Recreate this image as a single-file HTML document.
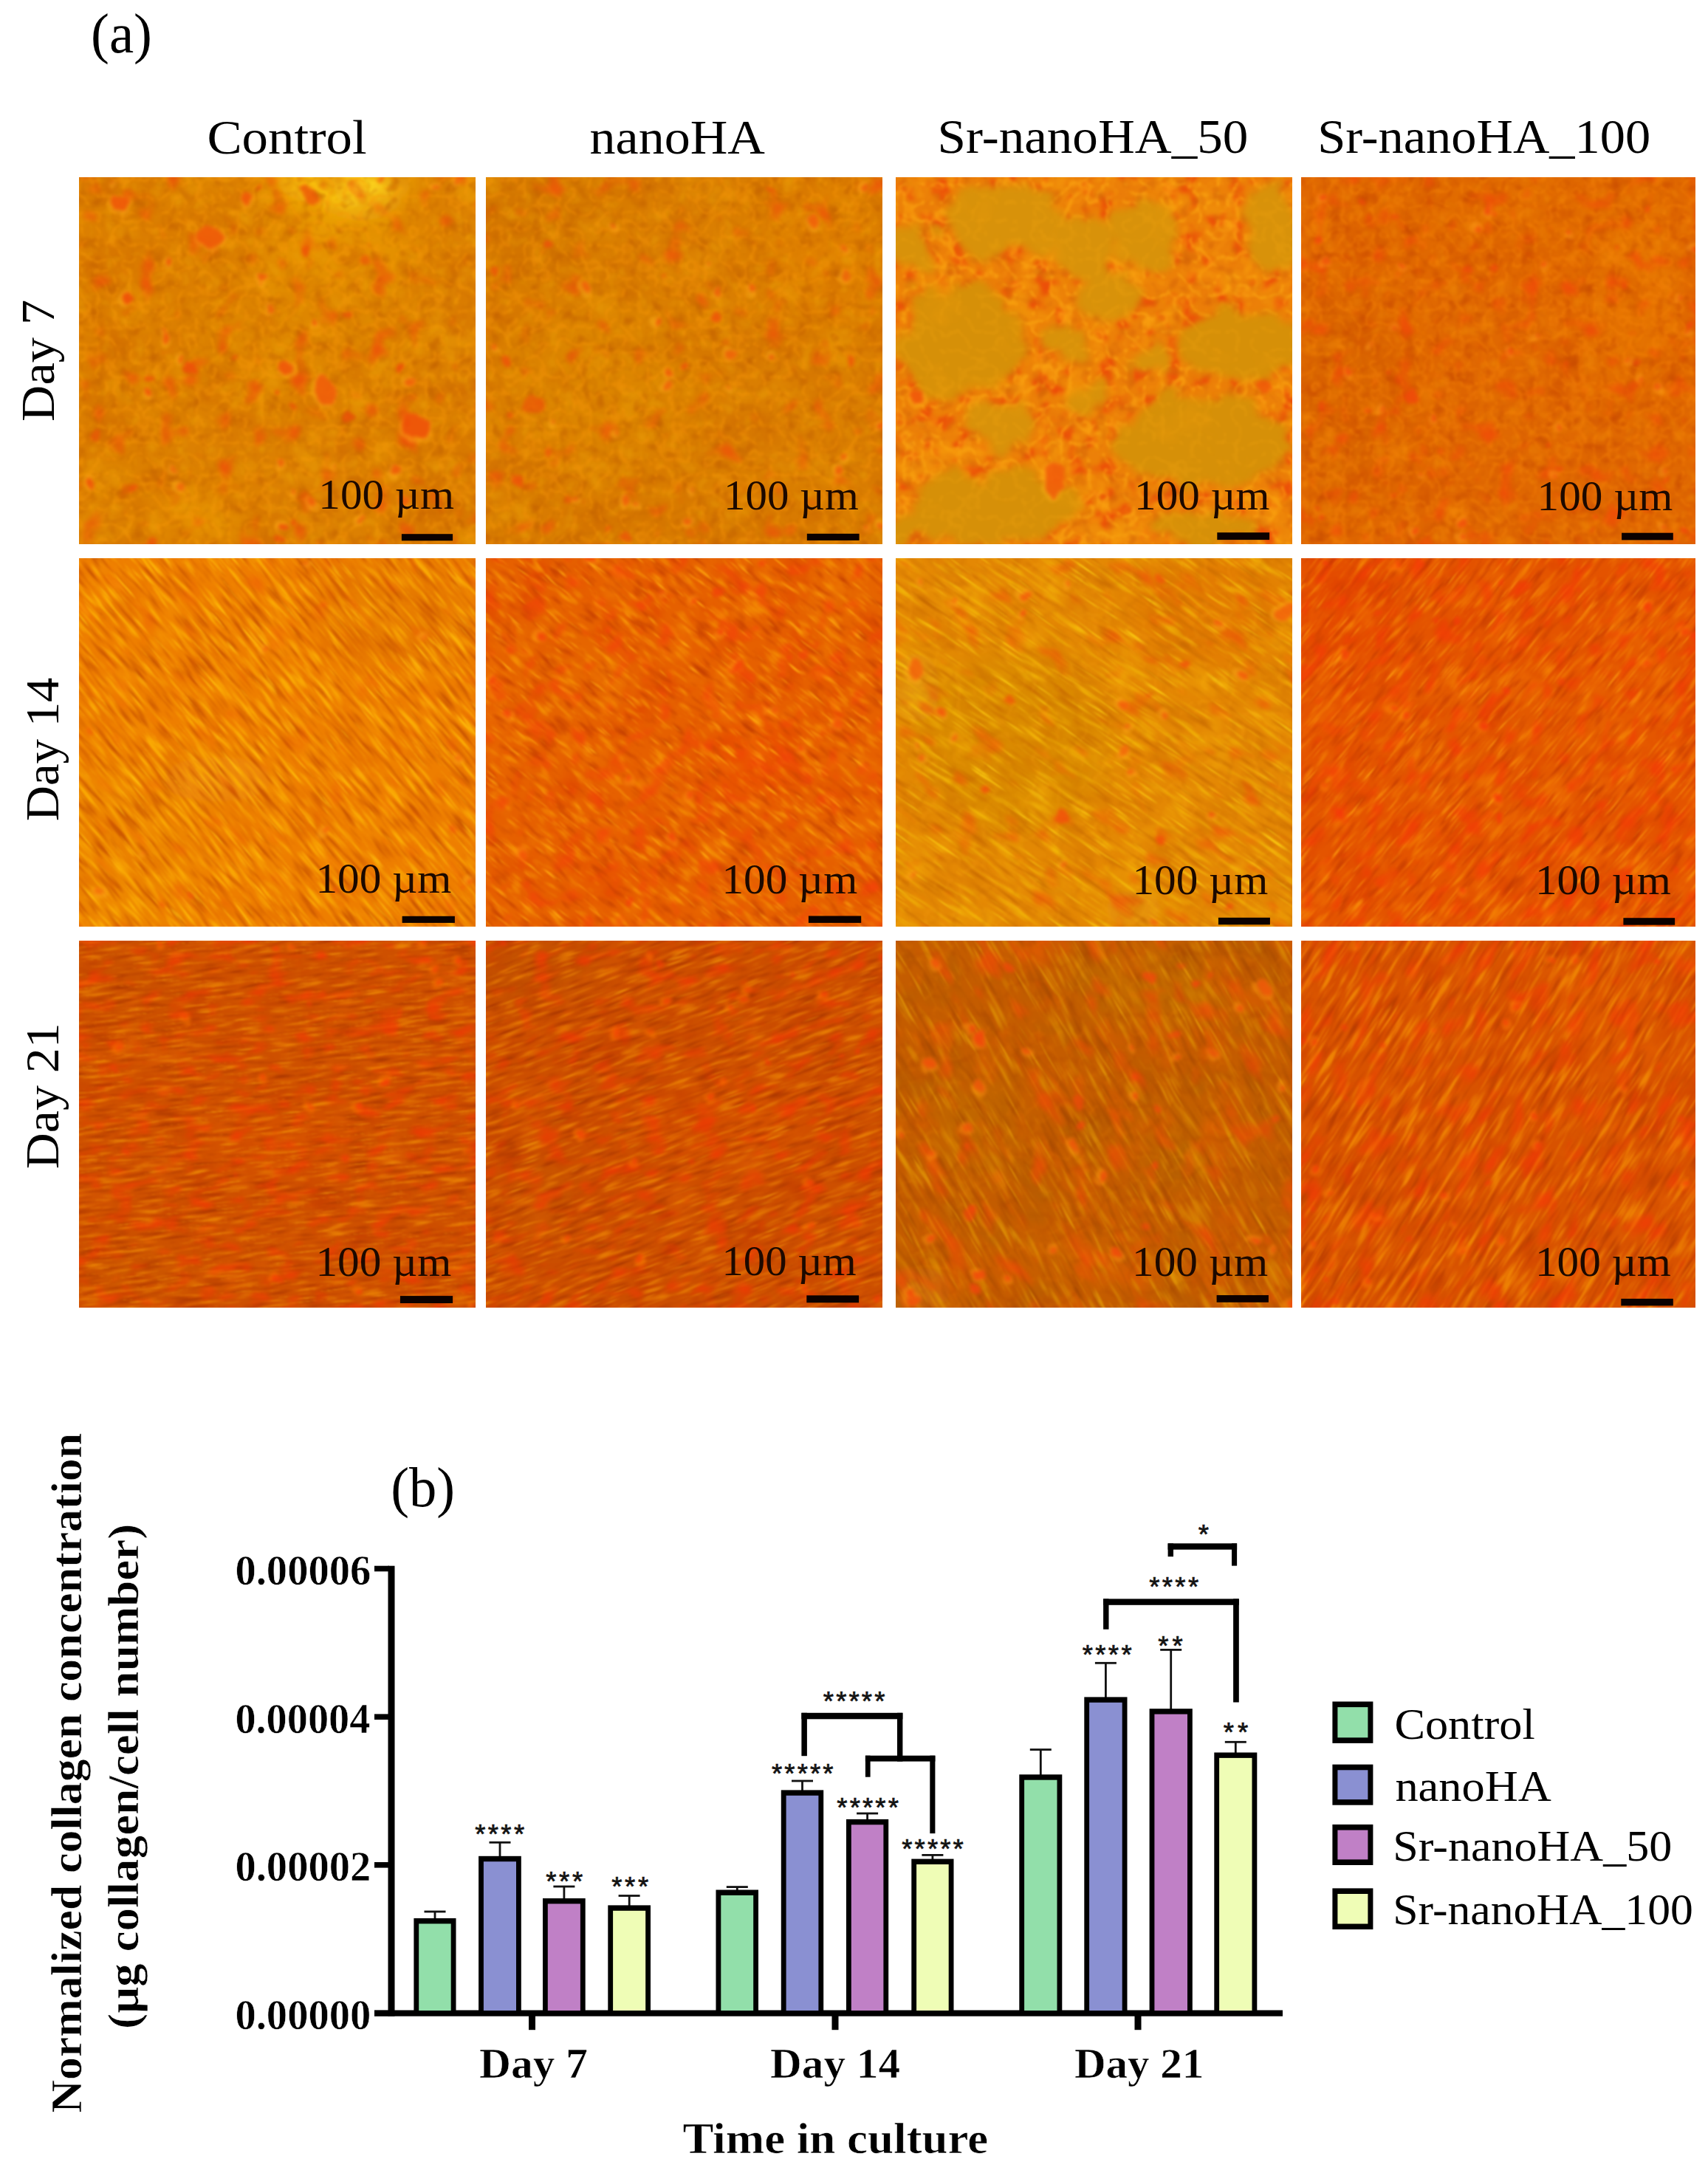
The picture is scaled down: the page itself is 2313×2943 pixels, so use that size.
<!DOCTYPE html>
<html lang="en"><head><meta charset="utf-8"><title>Figure: collagen staining and quantification</title>
<style>html,body{margin:0;padding:0;background:#fff}body{width:2313px;height:2943px;overflow:hidden}svg{display:block}text{font-family:"Liberation Serif", "DejaVu Serif", serif;fill:#000}.b{font-weight:bold;stroke:#fff;stroke-width:0.6px}.st{font-family:"Liberation Sans", "DejaVu Sans", sans-serif;fill:#111}</style>
</head><body>
<svg width="2313" height="2943" viewBox="0 0 2313 2943">
<rect width="2313" height="2943" fill="#fff"/>
<defs>
<filter id="soft" x="-0.02" y="-0.02" width="1.04" height="1.04" color-interpolation-filters="sRGB"><feGaussianBlur stdDeviation="0.8"/></filter>
<filter id="bl" x="-0.5" y="-0.5" width="2" height="2"><feGaussianBlur stdDeviation="22"/></filter>
<filter id="sb" x="-0.3" y="-0.3" width="1.6" height="1.6" color-interpolation-filters="sRGB"><feTurbulence type="fractalNoise" baseFrequency="0.05" numOctaves="2" seed="4" result="n"/><feDisplacementMap in="SourceGraphic" in2="n" scale="14" xChannelSelector="R" yChannelSelector="G"/><feGaussianBlur stdDeviation="2"/></filter>
<filter id="sh" x="-0.3" y="-0.3" width="1.6" height="1.6" color-interpolation-filters="sRGB"><feTurbulence type="fractalNoise" baseFrequency="0.02" numOctaves="3" seed="9" result="n"/><feDisplacementMap in="SourceGraphic" in2="n" scale="60" xChannelSelector="R" yChannelSelector="G"/><feGaussianBlur stdDeviation="5"/></filter>
<filter id="grain" x="0" y="0" width="1" height="1" color-interpolation-filters="sRGB"><feTurbulence type="fractalNoise" baseFrequency="0.12" numOctaves="2" seed="7"/><feColorMatrix type="matrix" values="0 0 0 0 1  0 0 0 0 0.78  0 0 0 0 0.2  3 0 0 0 -1.85"/></filter>
<clipPath id="cp00"><rect x="107.4" y="240" width="536.4" height="496.6"/></clipPath>
<filter id="ml00" x="0" y="0" width="1" height="1" color-interpolation-filters="sRGB"><feTurbulence type="fractalNoise" baseFrequency="0.018" numOctaves="3" seed="11"/><feColorMatrix type="matrix" values="0 0 0 0 0.918  0 0 0 0 0.620  0 0 0 0 0.020  1.800 0 0 0 -0.990"/></filter>
<filter id="md00" x="0" y="0" width="1" height="1" color-interpolation-filters="sRGB"><feTurbulence type="fractalNoise" baseFrequency="0.018" numOctaves="3" seed="11"/><feColorMatrix type="matrix" values="0 0 0 0 0.808  0 0 0 0 0.400  0 0 0 0 0.000  -1.800 0 0 0 0.810"/></filter>
<filter id="nl00" x="0" y="0" width="1" height="1" color-interpolation-filters="sRGB"><feTurbulence type="fractalNoise" baseFrequency="0.05" numOctaves="2" seed="300"/><feColorMatrix type="matrix" values="0 0 0 0 0.910  0 0 0 0 0.604  0 0 0 0 0.020  2.200 0 0 0 -1.232"/></filter>
<filter id="nd00" x="0" y="0" width="1" height="1" color-interpolation-filters="sRGB"><feTurbulence type="fractalNoise" baseFrequency="0.05" numOctaves="2" seed="300"/><feColorMatrix type="matrix" values="0 0 0 0 0.769  0 0 0 0 0.384  0 0 0 0 0.000  -2.400 0 0 0 1.080"/></filter>
<filter id="cd00" x="0" y="0" width="1" height="1" color-interpolation-filters="sRGB"><feTurbulence type="turbulence" baseFrequency="0.036" numOctaves="2" seed="55"/><feColorMatrix type="matrix" values="0 0 0 0 0.729  0 0 0 0 0.369  0 0 0 0 0.008  -2.600 0 0 0 0.442"/><feGaussianBlur stdDeviation="1.0"/></filter>
<filter id="ce00" x="0" y="0" width="1" height="1" color-interpolation-filters="sRGB"><feTurbulence type="turbulence" baseFrequency="0.045" numOctaves="2" seed="5"/><feColorMatrix type="matrix" values="0 0 0 0 0.969  0 0 0 0 0.596  0 0 0 0 0.031  -3.200 0 0 0 0.640"/><feGaussianBlur stdDeviation="0.8"/></filter>
<filter id="rd00" x="0" y="0" width="1" height="1" color-interpolation-filters="sRGB"><feTurbulence type="fractalNoise" baseFrequency="0.028" numOctaves="2" seed="201"/><feColorMatrix type="matrix" values="0 0 0 0 0.925  0 0 0 0 0.322  0 0 0 0 0.031  4.200 0 0 0 -2.520"/><feGaussianBlur stdDeviation="2.0"/></filter>
<clipPath id="cp01"><rect x="658.2" y="240" width="536.0999999999999" height="496.6"/></clipPath>
<filter id="ml01" x="0" y="0" width="1" height="1" color-interpolation-filters="sRGB"><feTurbulence type="fractalNoise" baseFrequency="0.018" numOctaves="3" seed="23"/><feColorMatrix type="matrix" values="0 0 0 0 0.910  0 0 0 0 0.604  0 0 0 0 0.020  1.800 0 0 0 -1.008"/></filter>
<filter id="md01" x="0" y="0" width="1" height="1" color-interpolation-filters="sRGB"><feTurbulence type="fractalNoise" baseFrequency="0.018" numOctaves="3" seed="23"/><feColorMatrix type="matrix" values="0 0 0 0 0.800  0 0 0 0 0.400  0 0 0 0 0.000  -1.800 0 0 0 0.792"/></filter>
<filter id="nl01" x="0" y="0" width="1" height="1" color-interpolation-filters="sRGB"><feTurbulence type="fractalNoise" baseFrequency="0.05" numOctaves="2" seed="301"/><feColorMatrix type="matrix" values="0 0 0 0 0.902  0 0 0 0 0.596  0 0 0 0 0.020  2.200 0 0 0 -1.232"/></filter>
<filter id="nd01" x="0" y="0" width="1" height="1" color-interpolation-filters="sRGB"><feTurbulence type="fractalNoise" baseFrequency="0.05" numOctaves="2" seed="301"/><feColorMatrix type="matrix" values="0 0 0 0 0.761  0 0 0 0 0.376  0 0 0 0 0.000  -2.400 0 0 0 1.080"/></filter>
<filter id="cd01" x="0" y="0" width="1" height="1" color-interpolation-filters="sRGB"><feTurbulence type="turbulence" baseFrequency="0.036" numOctaves="2" seed="65"/><feColorMatrix type="matrix" values="0 0 0 0 0.722  0 0 0 0 0.361  0 0 0 0 0.008  -2.600 0 0 0 0.442"/><feGaussianBlur stdDeviation="1.0"/></filter>
<filter id="ce01" x="0" y="0" width="1" height="1" color-interpolation-filters="sRGB"><feTurbulence type="turbulence" baseFrequency="0.045" numOctaves="2" seed="15"/><feColorMatrix type="matrix" values="0 0 0 0 0.961  0 0 0 0 0.580  0 0 0 0 0.031  -3.200 0 0 0 0.640"/><feGaussianBlur stdDeviation="0.8"/></filter>
<filter id="rd01" x="0" y="0" width="1" height="1" color-interpolation-filters="sRGB"><feTurbulence type="fractalNoise" baseFrequency="0.03" numOctaves="2" seed="202"/><feColorMatrix type="matrix" values="0 0 0 0 0.925  0 0 0 0 0.337  0 0 0 0 0.031  4.200 0 0 0 -2.604"/><feGaussianBlur stdDeviation="2.0"/></filter>
<clipPath id="cp02"><rect x="1213" y="240" width="536.5999999999999" height="496.6"/></clipPath>
<filter id="ml02" x="0" y="0" width="1" height="1" color-interpolation-filters="sRGB"><feTurbulence type="fractalNoise" baseFrequency="0.02" numOctaves="3" seed="31"/><feColorMatrix type="matrix" values="0 0 0 0 0.957  0 0 0 0 0.620  0 0 0 0 0.043  1.600 0 0 0 -0.896"/></filter>
<filter id="md02" x="0" y="0" width="1" height="1" color-interpolation-filters="sRGB"><feTurbulence type="fractalNoise" baseFrequency="0.02" numOctaves="3" seed="31"/><feColorMatrix type="matrix" values="0 0 0 0 0.902  0 0 0 0 0.447  0 0 0 0 0.024  -1.600 0 0 0 0.704"/></filter>
<filter id="nl02" x="0" y="0" width="1" height="1" color-interpolation-filters="sRGB"><feTurbulence type="fractalNoise" baseFrequency="0.05" numOctaves="2" seed="302"/><feColorMatrix type="matrix" values="0 0 0 0 0.973  0 0 0 0 0.604  0 0 0 0 0.043  2.200 0 0 0 -1.232"/></filter>
<filter id="nd02" x="0" y="0" width="1" height="1" color-interpolation-filters="sRGB"><feTurbulence type="fractalNoise" baseFrequency="0.05" numOctaves="2" seed="302"/><feColorMatrix type="matrix" values="0 0 0 0 0.831  0 0 0 0 0.384  0 0 0 0 0.024  -2.400 0 0 0 1.080"/></filter>
<filter id="cd02" x="0" y="0" width="1" height="1" color-interpolation-filters="sRGB"><feTurbulence type="turbulence" baseFrequency="0.032" numOctaves="2" seed="75"/><feColorMatrix type="matrix" values="0 0 0 0 0.792  0 0 0 0 0.369  0 0 0 0 0.031  -2.600 0 0 0 0.442"/><feGaussianBlur stdDeviation="1.0"/></filter>
<filter id="ce02" x="0" y="0" width="1" height="1" color-interpolation-filters="sRGB"><feTurbulence type="turbulence" baseFrequency="0.04" numOctaves="2" seed="25"/><feColorMatrix type="matrix" values="0 0 0 0 1.000  0 0 0 0 0.682  0 0 0 0 0.078  -3.400 0 0 0 0.680"/><feGaussianBlur stdDeviation="0.8"/></filter>
<filter id="rd02" x="0" y="0" width="1" height="1" color-interpolation-filters="sRGB"><feTurbulence type="fractalNoise" baseFrequency="0.045" numOctaves="2" seed="203"/><feColorMatrix type="matrix" values="0 0 0 0 0.925  0 0 0 0 0.290  0 0 0 0 0.031  5.400 0 0 0 -2.808"/><feGaussianBlur stdDeviation="2.0"/></filter>
<clipPath id="cp03"><rect x="1762" y="240" width="533.9000000000001" height="496.6"/></clipPath>
<filter id="ml03" x="0" y="0" width="1" height="1" color-interpolation-filters="sRGB"><feTurbulence type="fractalNoise" baseFrequency="0.022" numOctaves="3" seed="41"/><feColorMatrix type="matrix" values="0 0 0 0 0.925  0 0 0 0 0.518  0 0 0 0 0.020  1.800 0 0 0 -1.008"/></filter>
<filter id="md03" x="0" y="0" width="1" height="1" color-interpolation-filters="sRGB"><feTurbulence type="fractalNoise" baseFrequency="0.022" numOctaves="3" seed="41"/><feColorMatrix type="matrix" values="0 0 0 0 0.824  0 0 0 0 0.322  0 0 0 0 0.000  -1.800 0 0 0 0.792"/></filter>
<filter id="nl03" x="0" y="0" width="1" height="1" color-interpolation-filters="sRGB"><feTurbulence type="fractalNoise" baseFrequency="0.05" numOctaves="2" seed="303"/><feColorMatrix type="matrix" values="0 0 0 0 0.925  0 0 0 0 0.510  0 0 0 0 0.020  2.200 0 0 0 -1.232"/></filter>
<filter id="nd03" x="0" y="0" width="1" height="1" color-interpolation-filters="sRGB"><feTurbulence type="fractalNoise" baseFrequency="0.05" numOctaves="2" seed="303"/><feColorMatrix type="matrix" values="0 0 0 0 0.784  0 0 0 0 0.290  0 0 0 0 0.000  -2.400 0 0 0 1.080"/></filter>
<filter id="cd03" x="0" y="0" width="1" height="1" color-interpolation-filters="sRGB"><feTurbulence type="turbulence" baseFrequency="0.04000000000000001" numOctaves="2" seed="85"/><feColorMatrix type="matrix" values="0 0 0 0 0.745  0 0 0 0 0.275  0 0 0 0 0.008  -2.600 0 0 0 0.442"/><feGaussianBlur stdDeviation="1.0"/></filter>
<filter id="ce03" x="0" y="0" width="1" height="1" color-interpolation-filters="sRGB"><feTurbulence type="turbulence" baseFrequency="0.05" numOctaves="2" seed="35"/><feColorMatrix type="matrix" values="0 0 0 0 0.969  0 0 0 0 0.525  0 0 0 0 0.031  -3.200 0 0 0 0.640"/><feGaussianBlur stdDeviation="0.8"/></filter>
<filter id="rd03" x="0" y="0" width="1" height="1" color-interpolation-filters="sRGB"><feTurbulence type="fractalNoise" baseFrequency="0.035" numOctaves="2" seed="204"/><feColorMatrix type="matrix" values="0 0 0 0 0.941  0 0 0 0 0.290  0 0 0 0 0.031  3.600 0 0 0 -2.052"/><feGaussianBlur stdDeviation="2.0"/></filter>
<clipPath id="cp10"><rect x="107.4" y="756" width="536.4" height="498.9000000000001"/></clipPath>
<filter id="ml10" x="0" y="0" width="1" height="1" color-interpolation-filters="sRGB"><feTurbulence type="fractalNoise" baseFrequency="0.02" numOctaves="2" seed="52"/><feColorMatrix type="matrix" values="0 0 0 0 0.965  0 0 0 0 0.596  0 0 0 0 0.012  1.600 0 0 0 -0.896"/></filter>
<filter id="md10" x="0" y="0" width="1" height="1" color-interpolation-filters="sRGB"><feTurbulence type="fractalNoise" baseFrequency="0.02" numOctaves="2" seed="52"/><feColorMatrix type="matrix" values="0 0 0 0 0.871  0 0 0 0 0.400  0 0 0 0 0.000  -1.600 0 0 0 0.704"/></filter>
<filter id="fl10" x="0" y="0" width="1" height="1" color-interpolation-filters="sRGB"><feTurbulence type="fractalNoise" baseFrequency="0.02 0.163" numOctaves="2" seed="51"/><feColorMatrix type="matrix" values="0 0 0 0 0.980  0 0 0 0 0.667  0 0 0 0 0.012  4.100 0 0 0 -2.214"/></filter>
<filter id="fd10" x="0" y="0" width="1" height="1" color-interpolation-filters="sRGB"><feTurbulence type="fractalNoise" baseFrequency="0.02 0.163" numOctaves="2" seed="51"/><feColorMatrix type="matrix" values="0 0 0 0 0.800  0 0 0 0 0.345  0 0 0 0 0.000  -3.800 0 0 0 1.748"/></filter>
<filter id="hl10" x="0" y="0" width="1" height="1" color-interpolation-filters="sRGB"><feTurbulence type="fractalNoise" baseFrequency="0.018000000000000002 0.3749" numOctaves="2" seed="58"/><feColorMatrix type="matrix" values="0 0 0 0 1.000  0 0 0 0 0.753  0 0 0 0 0.047  5.000 0 0 0 -3.100"/></filter>
<filter id="rd10" x="0" y="0" width="1" height="1" color-interpolation-filters="sRGB"><feTurbulence type="fractalNoise" baseFrequency="0.024 0.0489" numOctaves="2" seed="205"/><feColorMatrix type="matrix" values="0 0 0 0 0.941  0 0 0 0 0.353  0 0 0 0 0.031  3.600 0 0 0 -2.196"/><feGaussianBlur stdDeviation="1.8"/></filter>
<clipPath id="cp11"><rect x="658.2" y="756" width="536.0999999999999" height="498.9000000000001"/></clipPath>
<filter id="ml11" x="0" y="0" width="1" height="1" color-interpolation-filters="sRGB"><feTurbulence type="fractalNoise" baseFrequency="0.02" numOctaves="3" seed="62"/><feColorMatrix type="matrix" values="0 0 0 0 0.941  0 0 0 0 0.486  0 0 0 0 0.012  2.000 0 0 0 -1.120"/></filter>
<filter id="md11" x="0" y="0" width="1" height="1" color-interpolation-filters="sRGB"><feTurbulence type="fractalNoise" baseFrequency="0.02" numOctaves="3" seed="62"/><feColorMatrix type="matrix" values="0 0 0 0 0.871  0 0 0 0 0.259  0 0 0 0 0.000  -2.000 0 0 0 0.880"/></filter>
<filter id="fl11" x="0" y="0" width="1" height="1" color-interpolation-filters="sRGB"><feTurbulence type="fractalNoise" baseFrequency="0.03 0.112" numOctaves="2" seed="61"/><feColorMatrix type="matrix" values="0 0 0 0 0.957  0 0 0 0 0.557  0 0 0 0 0.012  3.500 0 0 0 -1.960"/></filter>
<filter id="fd11" x="0" y="0" width="1" height="1" color-interpolation-filters="sRGB"><feTurbulence type="fractalNoise" baseFrequency="0.03 0.112" numOctaves="2" seed="61"/><feColorMatrix type="matrix" values="0 0 0 0 0.784  0 0 0 0 0.259  0 0 0 0 0.000  -3.200 0 0 0 1.408"/></filter>
<filter id="hl11" x="0" y="0" width="1" height="1" color-interpolation-filters="sRGB"><feTurbulence type="fractalNoise" baseFrequency="0.027 0.2576" numOctaves="2" seed="68"/><feColorMatrix type="matrix" values="0 0 0 0 0.988  0 0 0 0 0.635  0 0 0 0 0.047  5.000 0 0 0 -3.100"/></filter>
<filter id="rd11" x="0" y="0" width="1" height="1" color-interpolation-filters="sRGB"><feTurbulence type="fractalNoise" baseFrequency="0.036 0.0336" numOctaves="2" seed="206"/><feColorMatrix type="matrix" values="0 0 0 0 0.949  0 0 0 0 0.267  0 0 0 0 0.031  3.600 0 0 0 -1.980"/><feGaussianBlur stdDeviation="1.8"/></filter>
<clipPath id="cp12"><rect x="1213" y="756" width="536.5999999999999" height="498.9000000000001"/></clipPath>
<filter id="ml12" x="0" y="0" width="1" height="1" color-interpolation-filters="sRGB"><feTurbulence type="fractalNoise" baseFrequency="0.018" numOctaves="3" seed="72"/><feColorMatrix type="matrix" values="0 0 0 0 0.941  0 0 0 0 0.651  0 0 0 0 0.027  2.000 0 0 0 -1.120"/></filter>
<filter id="md12" x="0" y="0" width="1" height="1" color-interpolation-filters="sRGB"><feTurbulence type="fractalNoise" baseFrequency="0.018" numOctaves="3" seed="72"/><feColorMatrix type="matrix" values="0 0 0 0 0.816  0 0 0 0 0.439  0 0 0 0 0.000  -2.000 0 0 0 0.880"/></filter>
<filter id="fl12" x="0" y="0" width="1" height="1" color-interpolation-filters="sRGB"><feTurbulence type="fractalNoise" baseFrequency="0.018 0.125" numOctaves="2" seed="71"/><feColorMatrix type="matrix" values="0 0 0 0 0.949  0 0 0 0 0.714  0 0 0 0 0.027  3.200 0 0 0 -1.792"/></filter>
<filter id="fd12" x="0" y="0" width="1" height="1" color-interpolation-filters="sRGB"><feTurbulence type="fractalNoise" baseFrequency="0.018 0.125" numOctaves="2" seed="71"/><feColorMatrix type="matrix" values="0 0 0 0 0.784  0 0 0 0 0.416  0 0 0 0 0.000  -2.900 0 0 0 1.276"/></filter>
<filter id="hl12" x="0" y="0" width="1" height="1" color-interpolation-filters="sRGB"><feTurbulence type="fractalNoise" baseFrequency="0.0162 0.2875" numOctaves="2" seed="78"/><feColorMatrix type="matrix" values="0 0 0 0 0.980  0 0 0 0 0.792  0 0 0 0 0.063  5.000 0 0 0 -3.100"/></filter>
<filter id="cd12" x="0" y="0" width="1" height="1" color-interpolation-filters="sRGB"><feTurbulence type="turbulence" baseFrequency="0.024" numOctaves="2" seed="125"/><feColorMatrix type="matrix" values="0 0 0 0 0.761  0 0 0 0 0.400  0 0 0 0 0.016  -2.600 0 0 0 0.442"/><feGaussianBlur stdDeviation="1.0"/></filter>
<filter id="ce12" x="0" y="0" width="1" height="1" color-interpolation-filters="sRGB"><feTurbulence type="turbulence" baseFrequency="0.03" numOctaves="2" seed="75"/><feColorMatrix type="matrix" values="0 0 0 0 1.000  0 0 0 0 0.667  0 0 0 0 0.086  -2.400 0 0 0 0.312"/><feGaussianBlur stdDeviation="0.8"/></filter>
<filter id="rd12" x="0" y="0" width="1" height="1" color-interpolation-filters="sRGB"><feTurbulence type="fractalNoise" baseFrequency="0.021599999999999998 0.0375" numOctaves="2" seed="207"/><feColorMatrix type="matrix" values="0 0 0 0 0.941  0 0 0 0 0.306  0 0 0 0 0.031  4.200 0 0 0 -2.478"/><feGaussianBlur stdDeviation="1.8"/></filter>
<clipPath id="cp13"><rect x="1762" y="756" width="533.9000000000001" height="498.9000000000001"/></clipPath>
<filter id="ml13" x="0" y="0" width="1" height="1" color-interpolation-filters="sRGB"><feTurbulence type="fractalNoise" baseFrequency="0.022" numOctaves="3" seed="82"/><feColorMatrix type="matrix" values="0 0 0 0 0.941  0 0 0 0 0.439  0 0 0 0 0.012  2.000 0 0 0 -1.120"/></filter>
<filter id="md13" x="0" y="0" width="1" height="1" color-interpolation-filters="sRGB"><feTurbulence type="fractalNoise" baseFrequency="0.022" numOctaves="3" seed="82"/><feColorMatrix type="matrix" values="0 0 0 0 0.863  0 0 0 0 0.227  0 0 0 0 0.000  -2.000 0 0 0 0.880"/></filter>
<filter id="fl13" x="0" y="0" width="1" height="1" color-interpolation-filters="sRGB"><feTurbulence type="fractalNoise" baseFrequency="0.024 0.15" numOctaves="2" seed="81"/><feColorMatrix type="matrix" values="0 0 0 0 0.957  0 0 0 0 0.510  0 0 0 0 0.012  3.200 0 0 0 -1.792"/></filter>
<filter id="fd13" x="0" y="0" width="1" height="1" color-interpolation-filters="sRGB"><feTurbulence type="fractalNoise" baseFrequency="0.024 0.15" numOctaves="2" seed="81"/><feColorMatrix type="matrix" values="0 0 0 0 0.776  0 0 0 0 0.235  0 0 0 0 0.000  -3.200 0 0 0 1.408"/></filter>
<filter id="hl13" x="0" y="0" width="1" height="1" color-interpolation-filters="sRGB"><feTurbulence type="fractalNoise" baseFrequency="0.0216 0.345" numOctaves="2" seed="88"/><feColorMatrix type="matrix" values="0 0 0 0 0.980  0 0 0 0 0.588  0 0 0 0 0.047  5.000 0 0 0 -3.100"/></filter>
<filter id="rd13" x="0" y="0" width="1" height="1" color-interpolation-filters="sRGB"><feTurbulence type="fractalNoise" baseFrequency="0.0288 0.045" numOctaves="2" seed="208"/><feColorMatrix type="matrix" values="0 0 0 0 0.957  0 0 0 0 0.227  0 0 0 0 0.024  3.600 0 0 0 -1.908"/><feGaussianBlur stdDeviation="1.8"/></filter>
<clipPath id="cp20"><rect x="107.4" y="1274.2" width="536.4" height="496.5999999999999"/></clipPath>
<filter id="ml20" x="0" y="0" width="1" height="1" color-interpolation-filters="sRGB"><feTurbulence type="fractalNoise" baseFrequency="0.02" numOctaves="3" seed="92"/><feColorMatrix type="matrix" values="0 0 0 0 0.871  0 0 0 0 0.369  0 0 0 0 0.012  1.800 0 0 0 -1.008"/></filter>
<filter id="md20" x="0" y="0" width="1" height="1" color-interpolation-filters="sRGB"><feTurbulence type="fractalNoise" baseFrequency="0.02" numOctaves="3" seed="92"/><feColorMatrix type="matrix" values="0 0 0 0 0.769  0 0 0 0 0.227  0 0 0 0 0.000  -1.800 0 0 0 0.792"/></filter>
<filter id="fl20" x="0" y="0" width="1" height="1" color-interpolation-filters="sRGB"><feTurbulence type="fractalNoise" baseFrequency="0.024 0.188" numOctaves="2" seed="91"/><feColorMatrix type="matrix" values="0 0 0 0 0.910  0 0 0 0 0.494  0 0 0 0 0.012  3.800 0 0 0 -2.090"/></filter>
<filter id="fd20" x="0" y="0" width="1" height="1" color-interpolation-filters="sRGB"><feTurbulence type="fractalNoise" baseFrequency="0.024 0.188" numOctaves="2" seed="91"/><feColorMatrix type="matrix" values="0 0 0 0 0.690  0 0 0 0 0.227  0 0 0 0 0.000  -3.500 0 0 0 1.575"/></filter>
<filter id="hl20" x="0" y="0" width="1" height="1" color-interpolation-filters="sRGB"><feTurbulence type="fractalNoise" baseFrequency="0.0216 0.43239999999999995" numOctaves="2" seed="98"/><feColorMatrix type="matrix" values="0 0 0 0 0.910  0 0 0 0 0.518  0 0 0 0 0.024  6.000 0 0 0 -3.780"/></filter>
<filter id="rd20" x="0" y="0" width="1" height="1" color-interpolation-filters="sRGB"><feTurbulence type="fractalNoise" baseFrequency="0.0288 0.0564" numOctaves="2" seed="209"/><feColorMatrix type="matrix" values="0 0 0 0 0.957  0 0 0 0 0.227  0 0 0 0 0.016  3.600 0 0 0 -1.908"/><feGaussianBlur stdDeviation="1.8"/></filter>
<clipPath id="cp21"><rect x="658.2" y="1274.2" width="536.0999999999999" height="496.5999999999999"/></clipPath>
<filter id="ml21" x="0" y="0" width="1" height="1" color-interpolation-filters="sRGB"><feTurbulence type="fractalNoise" baseFrequency="0.02" numOctaves="3" seed="102"/><feColorMatrix type="matrix" values="0 0 0 0 0.863  0 0 0 0 0.361  0 0 0 0 0.012  1.800 0 0 0 -1.008"/></filter>
<filter id="md21" x="0" y="0" width="1" height="1" color-interpolation-filters="sRGB"><feTurbulence type="fractalNoise" baseFrequency="0.02" numOctaves="3" seed="102"/><feColorMatrix type="matrix" values="0 0 0 0 0.761  0 0 0 0 0.220  0 0 0 0 0.000  -1.800 0 0 0 0.792"/></filter>
<filter id="fl21" x="0" y="0" width="1" height="1" color-interpolation-filters="sRGB"><feTurbulence type="fractalNoise" baseFrequency="0.024 0.175" numOctaves="2" seed="101"/><feColorMatrix type="matrix" values="0 0 0 0 0.902  0 0 0 0 0.478  0 0 0 0 0.012  3.800 0 0 0 -2.090"/></filter>
<filter id="fd21" x="0" y="0" width="1" height="1" color-interpolation-filters="sRGB"><feTurbulence type="fractalNoise" baseFrequency="0.024 0.175" numOctaves="2" seed="101"/><feColorMatrix type="matrix" values="0 0 0 0 0.675  0 0 0 0 0.220  0 0 0 0 0.000  -3.500 0 0 0 1.575"/></filter>
<filter id="hl21" x="0" y="0" width="1" height="1" color-interpolation-filters="sRGB"><feTurbulence type="fractalNoise" baseFrequency="0.0216 0.40249999999999997" numOctaves="2" seed="108"/><feColorMatrix type="matrix" values="0 0 0 0 0.902  0 0 0 0 0.510  0 0 0 0 0.024  6.000 0 0 0 -3.780"/></filter>
<filter id="rd21" x="0" y="0" width="1" height="1" color-interpolation-filters="sRGB"><feTurbulence type="fractalNoise" baseFrequency="0.0288 0.0525" numOctaves="2" seed="210"/><feColorMatrix type="matrix" values="0 0 0 0 0.949  0 0 0 0 0.220  0 0 0 0 0.016  3.600 0 0 0 -1.908"/><feGaussianBlur stdDeviation="1.8"/></filter>
<clipPath id="cp22"><rect x="1213" y="1274.2" width="536.5999999999999" height="496.5999999999999"/></clipPath>
<filter id="ml22" x="0" y="0" width="1" height="1" color-interpolation-filters="sRGB"><feTurbulence type="fractalNoise" baseFrequency="0.016" numOctaves="3" seed="112"/><feColorMatrix type="matrix" values="0 0 0 0 0.855  0 0 0 0 0.361  0 0 0 0 0.008  2.400 0 0 0 -1.296"/></filter>
<filter id="md22" x="0" y="0" width="1" height="1" color-interpolation-filters="sRGB"><feTurbulence type="fractalNoise" baseFrequency="0.016" numOctaves="3" seed="112"/><feColorMatrix type="matrix" values="0 0 0 0 0.675  0 0 0 0 0.369  0 0 0 0 0.008  -2.000 0 0 0 0.880"/></filter>
<filter id="fl22" x="0" y="0" width="1" height="1" color-interpolation-filters="sRGB"><feTurbulence type="fractalNoise" baseFrequency="0.016 0.112" numOctaves="2" seed="111"/><feColorMatrix type="matrix" values="0 0 0 0 0.863  0 0 0 0 0.549  0 0 0 0 0.012  3.200 0 0 0 -1.792"/></filter>
<filter id="fd22" x="0" y="0" width="1" height="1" color-interpolation-filters="sRGB"><feTurbulence type="fractalNoise" baseFrequency="0.016 0.112" numOctaves="2" seed="111"/><feColorMatrix type="matrix" values="0 0 0 0 0.667  0 0 0 0 0.298  0 0 0 0 0.000  -3.200 0 0 0 1.408"/></filter>
<filter id="hl22" x="0" y="0" width="1" height="1" color-interpolation-filters="sRGB"><feTurbulence type="fractalNoise" baseFrequency="0.014400000000000001 0.2576" numOctaves="2" seed="118"/><feColorMatrix type="matrix" values="0 0 0 0 0.871  0 0 0 0 0.565  0 0 0 0 0.024  6.000 0 0 0 -3.780"/></filter>
<filter id="cd22" x="0" y="0" width="1" height="1" color-interpolation-filters="sRGB"><feTurbulence type="turbulence" baseFrequency="0.024" numOctaves="2" seed="165"/><feColorMatrix type="matrix" values="0 0 0 0 0.635  0 0 0 0 0.227  0 0 0 0 0.000  -2.600 0 0 0 0.442"/><feGaussianBlur stdDeviation="1.0"/></filter>
<filter id="ce22" x="0" y="0" width="1" height="1" color-interpolation-filters="sRGB"><feTurbulence type="turbulence" baseFrequency="0.03" numOctaves="2" seed="115"/><feColorMatrix type="matrix" values="0 0 0 0 0.969  0 0 0 0 0.541  0 0 0 0 0.031  -2.200 0 0 0 0.264"/><feGaussianBlur stdDeviation="0.8"/></filter>
<filter id="rd22" x="0" y="0" width="1" height="1" color-interpolation-filters="sRGB"><feTurbulence type="fractalNoise" baseFrequency="0.0192 0.0336" numOctaves="2" seed="211"/><feColorMatrix type="matrix" values="0 0 0 0 0.933  0 0 0 0 0.298  0 0 0 0 0.024  4.200 0 0 0 -2.394"/><feGaussianBlur stdDeviation="1.8"/></filter>
<clipPath id="cp23"><rect x="1762" y="1274.2" width="533.9000000000001" height="496.5999999999999"/></clipPath>
<filter id="ml23" x="0" y="0" width="1" height="1" color-interpolation-filters="sRGB"><feTurbulence type="fractalNoise" baseFrequency="0.02" numOctaves="3" seed="122"/><feColorMatrix type="matrix" values="0 0 0 0 0.902  0 0 0 0 0.392  0 0 0 0 0.012  1.800 0 0 0 -1.008"/></filter>
<filter id="md23" x="0" y="0" width="1" height="1" color-interpolation-filters="sRGB"><feTurbulence type="fractalNoise" baseFrequency="0.02" numOctaves="3" seed="122"/><feColorMatrix type="matrix" values="0 0 0 0 0.808  0 0 0 0 0.235  0 0 0 0 0.000  -1.800 0 0 0 0.792"/></filter>
<filter id="fl23" x="0" y="0" width="1" height="1" color-interpolation-filters="sRGB"><feTurbulence type="fractalNoise" baseFrequency="0.018 0.15" numOctaves="2" seed="121"/><feColorMatrix type="matrix" values="0 0 0 0 0.933  0 0 0 0 0.510  0 0 0 0 0.012  4.100 0 0 0 -2.214"/></filter>
<filter id="fd23" x="0" y="0" width="1" height="1" color-interpolation-filters="sRGB"><feTurbulence type="fractalNoise" baseFrequency="0.018 0.15" numOctaves="2" seed="121"/><feColorMatrix type="matrix" values="0 0 0 0 0.729  0 0 0 0 0.243  0 0 0 0 0.000  -3.500 0 0 0 1.575"/></filter>
<filter id="hl23" x="0" y="0" width="1" height="1" color-interpolation-filters="sRGB"><feTurbulence type="fractalNoise" baseFrequency="0.0162 0.345" numOctaves="2" seed="128"/><feColorMatrix type="matrix" values="0 0 0 0 0.949  0 0 0 0 0.525  0 0 0 0 0.024  6.000 0 0 0 -3.780"/></filter>
<filter id="rd23" x="0" y="0" width="1" height="1" color-interpolation-filters="sRGB"><feTurbulence type="fractalNoise" baseFrequency="0.021599999999999998 0.045" numOctaves="2" seed="212"/><feColorMatrix type="matrix" values="0 0 0 0 0.957  0 0 0 0 0.227  0 0 0 0 0.024  3.600 0 0 0 -1.908"/><feGaussianBlur stdDeviation="1.8"/></filter>
</defs>
<text x="123.0" y="70.9" font-size="76" textLength="83.0" lengthAdjust="spacingAndGlyphs">(a)</text>
<text x="280.4" y="207.6" font-size="65" textLength="216.3" lengthAdjust="spacingAndGlyphs">Control</text>
<text x="798.5" y="207.8" font-size="65" textLength="237.4" lengthAdjust="spacingAndGlyphs">nanoHA</text>
<text x="1269.6" y="206.8" font-size="65" textLength="420.7" lengthAdjust="spacingAndGlyphs">Sr-nanoHA_50</text>
<text x="1784.3" y="206.8" font-size="65" textLength="450.8" lengthAdjust="spacingAndGlyphs">Sr-nanoHA_100</text>
<text transform="translate(72.9 570.9) rotate(-90)" font-size="64" textLength="165.1" lengthAdjust="spacingAndGlyphs">Day 7</text>
<text transform="translate(79.0 1112.3) rotate(-90)" font-size="64" textLength="194.8" lengthAdjust="spacingAndGlyphs">Day 14</text>
<text transform="translate(79.0 1583.2) rotate(-90)" font-size="64" textLength="197.9" lengthAdjust="spacingAndGlyphs">Day 21</text>
<g clip-path="url(#cp00)"><g filter="url(#soft)">
<rect x="101.4" y="234" width="548.4" height="508.6" fill="#DC8002"/>
<g filter="url(#bl)">
<ellipse cx="461.4" cy="240.0" rx="91.2" ry="39.7" fill="#FFCC10" opacity="1.0"/>
<ellipse cx="493.6" cy="249.9" rx="32.2" ry="24.8" fill="#FFE428" opacity="1.0"/>
<ellipse cx="461.4" cy="339.3" rx="107.3" ry="59.6" fill="#E89808" opacity="0.7"/>
<ellipse cx="402.4" cy="448.6" rx="134.1" ry="74.5" fill="#E08C04" opacity="0.5"/>
<ellipse cx="268.3" cy="706.8" rx="53.6" ry="24.8" fill="#F0A008" opacity="0.6"/>
<ellipse cx="150.3" cy="488.3" rx="64.4" ry="149.0" fill="#D97900" opacity="0.5"/>
<ellipse cx="590.2" cy="662.1" rx="64.4" ry="74.5" fill="#D57300" opacity="0.5"/>
<ellipse cx="214.7" cy="339.3" rx="80.5" ry="59.6" fill="#D97700" opacity="0.4"/>
</g>
<rect x="101.4" y="234" width="548.4" height="508.6" filter="url(#ml00)"/>
<rect x="101.4" y="234" width="548.4" height="508.6" filter="url(#md00)"/>
<rect x="101.4" y="234" width="548.4" height="508.6" filter="url(#nl00)"/>
<rect x="101.4" y="234" width="548.4" height="508.6" filter="url(#nd00)"/>
<rect x="101.4" y="234" width="548.4" height="508.6" filter="url(#cd00)" opacity="0.5"/>
<rect x="101.4" y="234" width="548.4" height="508.6" filter="url(#ce00)" opacity="0.9"/>
<rect x="101.4" y="234" width="548.4" height="508.6" filter="url(#rd00)" opacity="0.9"/>
<g filter="url(#sb)">
<ellipse cx="162.5" cy="276.8" rx="16.0" ry="14.7" fill="#FFB018" opacity="0.5" transform="rotate(45 161.0 274.8)"/>
<ellipse cx="161.0" cy="274.8" rx="13.0" ry="11.7" fill="#EE4E08" opacity="0.79" transform="rotate(45 161.0 274.8)"/>
<ellipse cx="285.9" cy="321.5" rx="22.0" ry="17.0" fill="#FFB018" opacity="0.5" transform="rotate(13 284.4 319.5)"/>
<ellipse cx="284.4" cy="319.5" rx="19.0" ry="14.0" fill="#EE4E08" opacity="0.76" transform="rotate(13 284.4 319.5)"/>
<ellipse cx="418.5" cy="264.8" rx="15.0" ry="10.0" fill="#EE4E08" opacity="0.74" transform="rotate(49 418.5 264.8)"/>
<ellipse cx="441.5" cy="530.0" rx="22.0" ry="16.8" fill="#FFB018" opacity="0.5" transform="rotate(85 440.0 528.0)"/>
<ellipse cx="440.0" cy="528.0" rx="19.0" ry="13.8" fill="#EE4E08" opacity="0.72" transform="rotate(85 440.0 528.0)"/>
<ellipse cx="564.8" cy="579.7" rx="24.0" ry="19.1" fill="#FFB018" opacity="0.5" transform="rotate(34 563.3 577.7)"/>
<ellipse cx="563.3" cy="577.7" rx="21.0" ry="16.1" fill="#EE4E08" opacity="0.87" transform="rotate(34 563.3 577.7)"/>
<ellipse cx="257.6" cy="498.2" rx="11.0" ry="8.8" fill="#EE4E08" opacity="0.85" transform="rotate(38 257.6 498.2)"/>
<ellipse cx="387.8" cy="500.2" rx="14.0" ry="9.7" fill="#FFB018" opacity="0.5" transform="rotate(3 386.3 498.2)"/>
<ellipse cx="386.3" cy="498.2" rx="11.0" ry="6.7" fill="#EE4E08" opacity="0.82" transform="rotate(3 386.3 498.2)"/>
<ellipse cx="472.2" cy="567.8" rx="9.0" ry="6.0" fill="#EE4E08" opacity="0.76" transform="rotate(127 472.2 567.8)"/>
<ellipse cx="179.5" cy="660.8" rx="6.8" ry="4.7" fill="#EE4E08" opacity="0.75" transform="rotate(176 179.5 660.8)"/>
<ellipse cx="245.7" cy="488.0" rx="8.2" ry="6.6" fill="#FFB018" opacity="0.5" transform="rotate(117 244.2 486.0)"/>
<ellipse cx="244.2" cy="486.0" rx="5.2" ry="3.6" fill="#EE4E08" opacity="0.77" transform="rotate(117 244.2 486.0)"/>
<ellipse cx="458.4" cy="633.7" rx="6.5" ry="5.5" fill="#FFB018" opacity="0.5" transform="rotate(114 456.9 631.7)"/>
<ellipse cx="456.9" cy="631.7" rx="3.5" ry="2.5" fill="#EE4E08" opacity="0.69" transform="rotate(114 456.9 631.7)"/>
<ellipse cx="124.1" cy="657.0" rx="8.2" ry="8.1" fill="#FFB018" opacity="0.5" transform="rotate(158 122.6 655.0)"/>
<ellipse cx="122.6" cy="655.0" rx="5.2" ry="5.1" fill="#EE4E08" opacity="0.86" transform="rotate(158 122.6 655.0)"/>
<ellipse cx="516.3" cy="241.0" rx="5.2" ry="3.8" fill="#EE4E08" opacity="0.72" transform="rotate(169 516.3 241.0)"/>
<ellipse cx="494.4" cy="353.6" rx="7.7" ry="5.4" fill="#EE4E08" opacity="0.61" transform="rotate(2 494.4 353.6)"/>
<ellipse cx="592.4" cy="257.2" rx="6.1" ry="5.9" fill="#FFB018" opacity="0.5" transform="rotate(173 590.9 255.2)"/>
<ellipse cx="590.9" cy="255.2" rx="3.1" ry="2.9" fill="#EE4E08" opacity="0.65" transform="rotate(173 590.9 255.2)"/>
<ellipse cx="397.8" cy="706.4" rx="4.9" ry="4.6" fill="#EE4E08" opacity="0.75" transform="rotate(175 397.8 706.4)"/>
<ellipse cx="225.1" cy="451.6" rx="6.1" ry="5.4" fill="#FFB018" opacity="0.5" transform="rotate(62 223.6 449.6)"/>
<ellipse cx="223.6" cy="449.6" rx="3.1" ry="2.4" fill="#EE4E08" opacity="0.80" transform="rotate(62 223.6 449.6)"/>
<ellipse cx="227.8" cy="459.5" rx="8.5" ry="7.2" fill="#FFB018" opacity="0.5" transform="rotate(35 226.3 457.5)"/>
<ellipse cx="226.3" cy="457.5" rx="5.5" ry="4.2" fill="#EE4E08" opacity="0.80" transform="rotate(35 226.3 457.5)"/>
<ellipse cx="233.9" cy="356.6" rx="7.1" ry="5.9" fill="#FFB018" opacity="0.5" transform="rotate(90 232.4 354.6)"/>
<ellipse cx="232.4" cy="354.6" rx="4.1" ry="2.9" fill="#EE4E08" opacity="0.86" transform="rotate(90 232.4 354.6)"/>
<ellipse cx="355.4" cy="385.9" rx="6.1" ry="6.0" fill="#FFB018" opacity="0.5" transform="rotate(3 353.9 383.9)"/>
<ellipse cx="353.9" cy="383.9" rx="3.1" ry="3.0" fill="#EE4E08" opacity="0.70" transform="rotate(3 353.9 383.9)"/>
<ellipse cx="558.2" cy="518.3" rx="9.2" ry="9.2" fill="#FFB018" opacity="0.5" transform="rotate(141 556.7 516.3)"/>
<ellipse cx="556.7" cy="516.3" rx="6.2" ry="6.2" fill="#EE4E08" opacity="0.66" transform="rotate(141 556.7 516.3)"/>
<ellipse cx="207.1" cy="732.9" rx="7.3" ry="6.3" fill="#EE4E08" opacity="0.70" transform="rotate(151 207.1 732.9)"/>
<ellipse cx="173.7" cy="407.2" rx="9.6" ry="9.3" fill="#FFB018" opacity="0.5" transform="rotate(124 172.2 405.2)"/>
<ellipse cx="172.2" cy="405.2" rx="6.6" ry="6.3" fill="#EE4E08" opacity="0.90" transform="rotate(124 172.2 405.2)"/>
<ellipse cx="490.4" cy="707.0" rx="8.1" ry="6.5" fill="#FFB018" opacity="0.5" transform="rotate(131 488.9 705.0)"/>
<ellipse cx="488.9" cy="705.0" rx="5.1" ry="3.5" fill="#EE4E08" opacity="0.65" transform="rotate(131 488.9 705.0)"/>
<ellipse cx="552.6" cy="572.9" rx="4.5" ry="4.4" fill="#EE4E08" opacity="0.78" transform="rotate(38 552.6 572.9)"/>
<ellipse cx="424.1" cy="680.2" rx="10.2" ry="9.8" fill="#FFB018" opacity="0.5" transform="rotate(66 422.6 678.2)"/>
<ellipse cx="422.6" cy="678.2" rx="7.2" ry="6.8" fill="#EE4E08" opacity="0.69" transform="rotate(66 422.6 678.2)"/>
<ellipse cx="378.4" cy="532.5" rx="3.2" ry="3.0" fill="#EE4E08" opacity="0.87" transform="rotate(109 378.4 532.5)"/>
<ellipse cx="239.1" cy="638.0" rx="8.1" ry="6.3" fill="#FFB018" opacity="0.5" transform="rotate(99 237.6 636.0)"/>
<ellipse cx="237.6" cy="636.0" rx="5.1" ry="3.3" fill="#EE4E08" opacity="0.61" transform="rotate(99 237.6 636.0)"/>
<ellipse cx="200.2" cy="512.5" rx="6.5" ry="4.1" fill="#EE4E08" opacity="0.85" transform="rotate(156 200.2 512.5)"/>
<ellipse cx="469.2" cy="426.1" rx="5.2" ry="3.8" fill="#EE4E08" opacity="0.71" transform="rotate(111 469.2 426.1)"/>
<ellipse cx="381.6" cy="628.6" rx="8.6" ry="7.6" fill="#FFB018" opacity="0.5" transform="rotate(40 380.1 626.6)"/>
<ellipse cx="380.1" cy="626.6" rx="5.6" ry="4.6" fill="#EE4E08" opacity="0.68" transform="rotate(40 380.1 626.6)"/>
<ellipse cx="318.3" cy="483.2" rx="3.1" ry="3.0" fill="#EE4E08" opacity="0.74" transform="rotate(102 318.3 483.2)"/>
<ellipse cx="130.7" cy="589.3" rx="7.9" ry="5.6" fill="#EE4E08" opacity="0.60" transform="rotate(142 130.7 589.3)"/>
<ellipse cx="427.1" cy="437.5" rx="6.9" ry="6.3" fill="#FFB018" opacity="0.5" transform="rotate(17 425.6 435.5)"/>
<ellipse cx="425.6" cy="435.5" rx="3.9" ry="3.3" fill="#EE4E08" opacity="0.87" transform="rotate(17 425.6 435.5)"/>
<ellipse cx="376.8" cy="727.7" rx="6.9" ry="4.2" fill="#EE4E08" opacity="0.73" transform="rotate(43 376.8 727.7)"/>
<ellipse cx="398.4" cy="669.2" rx="7.2" ry="5.7" fill="#FFB018" opacity="0.5" transform="rotate(30 396.9 667.2)"/>
<ellipse cx="396.9" cy="667.2" rx="4.2" ry="2.7" fill="#EE4E08" opacity="0.82" transform="rotate(30 396.9 667.2)"/>
<ellipse cx="384.5" cy="715.0" rx="8.9" ry="6.8" fill="#FFB018" opacity="0.5" transform="rotate(164 383.0 713.0)"/>
<ellipse cx="383.0" cy="713.0" rx="5.9" ry="3.8" fill="#EE4E08" opacity="0.89" transform="rotate(164 383.0 713.0)"/>
<ellipse cx="355.2" cy="375.7" rx="8.7" ry="8.5" fill="#FFB018" opacity="0.5" transform="rotate(53 353.7 373.7)"/>
<ellipse cx="353.7" cy="373.7" rx="5.7" ry="5.5" fill="#EE4E08" opacity="0.74" transform="rotate(53 353.7 373.7)"/>
<ellipse cx="622.3" cy="244.8" rx="9.9" ry="7.4" fill="#FFB018" opacity="0.5" transform="rotate(117 620.8 242.8)"/>
<ellipse cx="620.8" cy="242.8" rx="6.9" ry="4.4" fill="#EE4E08" opacity="0.60" transform="rotate(117 620.8 242.8)"/>
<ellipse cx="549.0" cy="682.1" rx="9.7" ry="9.7" fill="#FFB018" opacity="0.5" transform="rotate(53 547.5 680.1)"/>
<ellipse cx="547.5" cy="680.1" rx="6.7" ry="6.7" fill="#EE4E08" opacity="0.73" transform="rotate(53 547.5 680.1)"/>
<ellipse cx="541.4" cy="497.6" rx="5.8" ry="4.2" fill="#EE4E08" opacity="0.89" transform="rotate(11 541.4 497.6)"/>
<ellipse cx="337.5" cy="269.9" rx="10.4" ry="10.3" fill="#FFB018" opacity="0.5" transform="rotate(20 336.0 267.9)"/>
<ellipse cx="336.0" cy="267.9" rx="7.4" ry="7.3" fill="#EE4E08" opacity="0.79" transform="rotate(20 336.0 267.9)"/>
<ellipse cx="413.1" cy="339.2" rx="5.5" ry="5.5" fill="#EE4E08" opacity="0.80" transform="rotate(98 413.1 339.2)"/>
<ellipse cx="369.0" cy="419.2" rx="7.7" ry="6.3" fill="#FFB018" opacity="0.5" transform="rotate(97 367.5 417.2)"/>
<ellipse cx="367.5" cy="417.2" rx="4.7" ry="3.3" fill="#EE4E08" opacity="0.67" transform="rotate(97 367.5 417.2)"/>
<ellipse cx="396.2" cy="549.6" rx="6.1" ry="3.8" fill="#EE4E08" opacity="0.73" transform="rotate(51 396.2 549.6)"/>
<ellipse cx="353.1" cy="253.9" rx="4.1" ry="3.6" fill="#EE4E08" opacity="0.72" transform="rotate(116 353.1 253.9)"/>
<ellipse cx="204.0" cy="532.2" rx="10.3" ry="8.3" fill="#FFB018" opacity="0.5" transform="rotate(59 202.5 530.2)"/>
<ellipse cx="202.5" cy="530.2" rx="7.3" ry="5.3" fill="#EE4E08" opacity="0.85" transform="rotate(59 202.5 530.2)"/>
<ellipse cx="537.2" cy="637.8" rx="10.1" ry="9.8" fill="#FFB018" opacity="0.5" transform="rotate(55 535.7 635.8)"/>
<ellipse cx="535.7" cy="635.8" rx="7.1" ry="6.8" fill="#EE4E08" opacity="0.76" transform="rotate(55 535.7 635.8)"/>
<ellipse cx="245.8" cy="660.0" rx="9.4" ry="8.3" fill="#FFB018" opacity="0.5" transform="rotate(107 244.3 658.0)"/>
<ellipse cx="244.3" cy="658.0" rx="6.4" ry="5.3" fill="#EE4E08" opacity="0.61" transform="rotate(107 244.3 658.0)"/>
<ellipse cx="153.5" cy="250.3" rx="6.1" ry="5.1" fill="#FFB018" opacity="0.5" transform="rotate(13 152.0 248.3)"/>
<ellipse cx="152.0" cy="248.3" rx="3.1" ry="2.1" fill="#EE4E08" opacity="0.62" transform="rotate(13 152.0 248.3)"/>
</g>
</g></g>
<text x="431.3" y="689.3" font-size="56.5" textLength="183.7" lengthAdjust="spacingAndGlyphs" style="fill:#1c0900">100 µm</text>
<rect x="543.9" y="723.2" width="69.2" height="9.1" fill="#0c0100"/>
<g clip-path="url(#cp01)"><g filter="url(#soft)">
<rect x="652.2" y="234" width="548.0999999999999" height="508.6" fill="#DA7E02"/>
<g filter="url(#bl)">
<ellipse cx="819.0" cy="513.1" rx="117.9" ry="99.3" fill="#DE8A06" opacity="0.6"/>
<ellipse cx="711.8" cy="289.7" rx="107.2" ry="74.5" fill="#CF7300" opacity="0.5"/>
<ellipse cx="1113.9" cy="339.3" rx="80.4" ry="99.3" fill="#E58306" opacity="0.5"/>
<ellipse cx="926.2" cy="711.8" rx="214.4" ry="39.7" fill="#D57300" opacity="0.4"/>
</g>
<rect x="652.2" y="234" width="548.0999999999999" height="508.6" filter="url(#ml01)"/>
<rect x="652.2" y="234" width="548.0999999999999" height="508.6" filter="url(#md01)"/>
<rect x="652.2" y="234" width="548.0999999999999" height="508.6" filter="url(#nl01)"/>
<rect x="652.2" y="234" width="548.0999999999999" height="508.6" filter="url(#nd01)"/>
<rect x="652.2" y="234" width="548.0999999999999" height="508.6" filter="url(#cd01)" opacity="0.5"/>
<rect x="652.2" y="234" width="548.0999999999999" height="508.6" filter="url(#ce01)" opacity="0.9"/>
<rect x="652.2" y="234" width="548.0999999999999" height="508.6" filter="url(#rd01)" opacity="0.85"/>
<g filter="url(#sb)">
<ellipse cx="722.5" cy="547.9" rx="15.0" ry="11.3" fill="#EE5208" opacity="0.65" transform="rotate(8 722.5 547.9)"/>
<ellipse cx="685.0" cy="488.3" rx="9.0" ry="5.5" fill="#EE5208" opacity="0.82" transform="rotate(62 685.0 488.3)"/>
<ellipse cx="793.7" cy="391.0" rx="12.0" ry="8.8" fill="#FFB018" opacity="0.5" transform="rotate(61 792.2 389.0)"/>
<ellipse cx="792.2" cy="389.0" rx="9.0" ry="5.8" fill="#EE5208" opacity="0.73" transform="rotate(61 792.2 389.0)"/>
<ellipse cx="969.1" cy="428.7" rx="8.0" ry="7.3" fill="#EE5208" opacity="0.83" transform="rotate(133 969.1 428.7)"/>
<ellipse cx="992.1" cy="480.4" rx="11.0" ry="10.6" fill="#FFB018" opacity="0.5" transform="rotate(127 990.6 478.4)"/>
<ellipse cx="990.6" cy="478.4" rx="8.0" ry="7.6" fill="#EE5208" opacity="0.67" transform="rotate(127 990.6 478.4)"/>
<ellipse cx="1104.7" cy="301.6" rx="12.0" ry="10.8" fill="#FFB018" opacity="0.5" transform="rotate(57 1103.2 299.6)"/>
<ellipse cx="1103.2" cy="299.6" rx="9.0" ry="7.8" fill="#EE5208" opacity="0.73" transform="rotate(57 1103.2 299.6)"/>
<ellipse cx="1172.2" cy="712.7" rx="6.2" ry="6.1" fill="#FFB018" opacity="0.5" transform="rotate(23 1170.7 710.7)"/>
<ellipse cx="1170.7" cy="710.7" rx="3.2" ry="3.1" fill="#EE5208" opacity="0.72" transform="rotate(23 1170.7 710.7)"/>
<ellipse cx="703.7" cy="654.9" rx="5.9" ry="4.8" fill="#EE5208" opacity="0.68" transform="rotate(26 703.7 654.9)"/>
<ellipse cx="1018.7" cy="395.0" rx="8.4" ry="7.6" fill="#FFB018" opacity="0.5" transform="rotate(76 1017.2 393.0)"/>
<ellipse cx="1017.2" cy="393.0" rx="5.4" ry="4.6" fill="#EE5208" opacity="0.77" transform="rotate(76 1017.2 393.0)"/>
<ellipse cx="985.0" cy="530.6" rx="6.6" ry="5.4" fill="#FFB018" opacity="0.5" transform="rotate(10 983.5 528.6)"/>
<ellipse cx="983.5" cy="528.6" rx="3.6" ry="2.4" fill="#EE5208" opacity="0.65" transform="rotate(10 983.5 528.6)"/>
<ellipse cx="890.6" cy="437.4" rx="8.9" ry="6.8" fill="#FFB018" opacity="0.5" transform="rotate(114 889.1 435.4)"/>
<ellipse cx="889.1" cy="435.4" rx="5.9" ry="3.8" fill="#EE5208" opacity="0.90" transform="rotate(114 889.1 435.4)"/>
<ellipse cx="1193.0" cy="713.5" rx="8.2" ry="8.0" fill="#FFB018" opacity="0.5" transform="rotate(179 1191.5 711.5)"/>
<ellipse cx="1191.5" cy="711.5" rx="5.2" ry="5.0" fill="#EE5208" opacity="0.73" transform="rotate(179 1191.5 711.5)"/>
<ellipse cx="896.7" cy="373.2" rx="3.1" ry="2.2" fill="#EE5208" opacity="0.84" transform="rotate(106 896.7 373.2)"/>
<ellipse cx="674.4" cy="472.9" rx="7.3" ry="6.8" fill="#FFB018" opacity="0.5" transform="rotate(46 672.9 470.9)"/>
<ellipse cx="672.9" cy="470.9" rx="4.3" ry="3.8" fill="#EE5208" opacity="0.76" transform="rotate(46 672.9 470.9)"/>
<ellipse cx="863.4" cy="684.9" rx="8.1" ry="6.1" fill="#FFB018" opacity="0.5" transform="rotate(6 861.9 682.9)"/>
<ellipse cx="861.9" cy="682.9" rx="5.1" ry="3.1" fill="#EE5208" opacity="0.63" transform="rotate(6 861.9 682.9)"/>
<ellipse cx="960.2" cy="359.3" rx="6.1" ry="5.8" fill="#FFB018" opacity="0.5" transform="rotate(43 958.7 357.3)"/>
<ellipse cx="958.7" cy="357.3" rx="3.1" ry="2.8" fill="#EE5208" opacity="0.65" transform="rotate(43 958.7 357.3)"/>
<ellipse cx="834.0" cy="309.9" rx="8.0" ry="6.5" fill="#FFB018" opacity="0.5" transform="rotate(39 832.5 307.9)"/>
<ellipse cx="832.5" cy="307.9" rx="5.0" ry="3.5" fill="#EE5208" opacity="0.74" transform="rotate(39 832.5 307.9)"/>
<ellipse cx="1195.1" cy="576.9" rx="6.7" ry="5.7" fill="#FFB018" opacity="0.5" transform="rotate(116 1193.6 574.9)"/>
<ellipse cx="1193.6" cy="574.9" rx="3.7" ry="2.7" fill="#EE5208" opacity="0.87" transform="rotate(116 1193.6 574.9)"/>
<ellipse cx="1138.7" cy="637.7" rx="8.9" ry="8.9" fill="#FFB018" opacity="0.5" transform="rotate(131 1137.2 635.7)"/>
<ellipse cx="1137.2" cy="635.7" rx="5.9" ry="5.9" fill="#EE5208" opacity="0.75" transform="rotate(131 1137.2 635.7)"/>
<ellipse cx="1145.7" cy="620.8" rx="9.2" ry="8.1" fill="#FFB018" opacity="0.5" transform="rotate(9 1144.2 618.8)"/>
<ellipse cx="1144.2" cy="618.8" rx="6.2" ry="5.1" fill="#EE5208" opacity="0.76" transform="rotate(9 1144.2 618.8)"/>
<ellipse cx="847.9" cy="727.2" rx="6.8" ry="4.6" fill="#EE5208" opacity="0.71" transform="rotate(17 847.9 727.2)"/>
<ellipse cx="744.6" cy="614.4" rx="5.9" ry="4.7" fill="#EE5208" opacity="0.69" transform="rotate(166 744.6 614.4)"/>
<ellipse cx="907.1" cy="505.4" rx="8.0" ry="7.9" fill="#FFB018" opacity="0.5" transform="rotate(67 905.6 503.4)"/>
<ellipse cx="905.6" cy="503.4" rx="5.0" ry="4.9" fill="#EE5208" opacity="0.81" transform="rotate(67 905.6 503.4)"/>
<ellipse cx="1154.0" cy="488.7" rx="6.3" ry="4.1" fill="#EE5208" opacity="0.80" transform="rotate(55 1154.0 488.7)"/>
<ellipse cx="849.4" cy="680.4" rx="9.6" ry="7.0" fill="#FFB018" opacity="0.5" transform="rotate(81 847.9 678.4)"/>
<ellipse cx="847.9" cy="678.4" rx="6.6" ry="4.0" fill="#EE5208" opacity="0.75" transform="rotate(81 847.9 678.4)"/>
<ellipse cx="906.8" cy="523.9" rx="9.7" ry="7.6" fill="#FFB018" opacity="0.5" transform="rotate(106 905.3 521.9)"/>
<ellipse cx="905.3" cy="521.9" rx="6.7" ry="4.6" fill="#EE5208" opacity="0.69" transform="rotate(106 905.3 521.9)"/>
<ellipse cx="1047.7" cy="483.6" rx="6.9" ry="5.9" fill="#FFB018" opacity="0.5" transform="rotate(168 1046.2 481.6)"/>
<ellipse cx="1046.2" cy="481.6" rx="3.9" ry="2.9" fill="#EE5208" opacity="0.83" transform="rotate(168 1046.2 481.6)"/>
<ellipse cx="833.8" cy="589.4" rx="6.7" ry="5.5" fill="#FFB018" opacity="0.5" transform="rotate(103 832.3 587.4)"/>
<ellipse cx="832.3" cy="587.4" rx="3.7" ry="2.5" fill="#EE5208" opacity="0.74" transform="rotate(103 832.3 587.4)"/>
<ellipse cx="1146.4" cy="375.2" rx="9.6" ry="9.0" fill="#FFB018" opacity="0.5" transform="rotate(71 1144.9 373.2)"/>
<ellipse cx="1144.9" cy="373.2" rx="6.6" ry="6.0" fill="#EE5208" opacity="0.64" transform="rotate(71 1144.9 373.2)"/>
<ellipse cx="824.2" cy="715.4" rx="5.8" ry="3.7" fill="#EE5208" opacity="0.89" transform="rotate(153 824.2 715.4)"/>
<ellipse cx="928.5" cy="497.1" rx="5.6" ry="4.9" fill="#EE5208" opacity="0.83" transform="rotate(4 928.5 497.1)"/>
<ellipse cx="974.9" cy="396.9" rx="6.8" ry="6.4" fill="#FFB018" opacity="0.5" transform="rotate(90 973.4 394.9)"/>
<ellipse cx="973.4" cy="394.9" rx="3.8" ry="3.4" fill="#EE5208" opacity="0.74" transform="rotate(90 973.4 394.9)"/>
<ellipse cx="934.1" cy="705.9" rx="8.5" ry="8.1" fill="#FFB018" opacity="0.5" transform="rotate(48 932.6 703.9)"/>
<ellipse cx="932.6" cy="703.9" rx="5.5" ry="5.1" fill="#EE5208" opacity="0.74" transform="rotate(48 932.6 703.9)"/>
<ellipse cx="698.6" cy="647.4" rx="5.9" ry="5.8" fill="#EE5208" opacity="0.85" transform="rotate(145 698.6 647.4)"/>
<ellipse cx="1146.3" cy="337.1" rx="9.0" ry="7.3" fill="#FFB018" opacity="0.5" transform="rotate(42 1144.8 335.1)"/>
<ellipse cx="1144.8" cy="335.1" rx="6.0" ry="4.3" fill="#EE5208" opacity="0.68" transform="rotate(42 1144.8 335.1)"/>
<ellipse cx="689.7" cy="564.2" rx="4.1" ry="3.2" fill="#EE5208" opacity="0.78" transform="rotate(122 689.7 564.2)"/>
<ellipse cx="781.2" cy="676.8" rx="6.4" ry="6.2" fill="#FFB018" opacity="0.5" transform="rotate(17 779.7 674.8)"/>
<ellipse cx="779.7" cy="674.8" rx="3.4" ry="3.2" fill="#EE5208" opacity="0.90" transform="rotate(17 779.7 674.8)"/>
<ellipse cx="939.7" cy="666.1" rx="7.0" ry="5.6" fill="#FFB018" opacity="0.5" transform="rotate(75 938.2 664.1)"/>
<ellipse cx="938.2" cy="664.1" rx="4.0" ry="2.6" fill="#EE5208" opacity="0.63" transform="rotate(75 938.2 664.1)"/>
<ellipse cx="771.0" cy="677.3" rx="4.7" ry="4.5" fill="#EE5208" opacity="0.64" transform="rotate(178 771.0 677.3)"/>
<ellipse cx="1042.6" cy="255.8" rx="4.4" ry="3.2" fill="#EE5208" opacity="0.80" transform="rotate(42 1042.6 255.8)"/>
<ellipse cx="751.8" cy="576.1" rx="6.3" ry="5.6" fill="#FFB018" opacity="0.5" transform="rotate(94 750.3 574.1)"/>
<ellipse cx="750.3" cy="574.1" rx="3.3" ry="2.6" fill="#EE5208" opacity="0.76" transform="rotate(94 750.3 574.1)"/>
<ellipse cx="1171.4" cy="254.6" rx="8.9" ry="8.8" fill="#FFB018" opacity="0.5" transform="rotate(136 1169.9 252.6)"/>
<ellipse cx="1169.9" cy="252.6" rx="5.9" ry="5.8" fill="#EE5208" opacity="0.75" transform="rotate(136 1169.9 252.6)"/>
<ellipse cx="669.5" cy="367.0" rx="6.3" ry="5.5" fill="#EE5208" opacity="0.74" transform="rotate(46 669.5 367.0)"/>
<ellipse cx="742.4" cy="331.2" rx="5.8" ry="5.1" fill="#EE5208" opacity="0.83" transform="rotate(73 742.4 331.2)"/>
</g>
</g></g>
<text x="980.1" y="690.3" font-size="56.5" textLength="182.7" lengthAdjust="spacingAndGlyphs" style="fill:#1c0900">100 µm</text>
<rect x="1092.8" y="722.8" width="70.8" height="9.1" fill="#0c0100"/>
<g clip-path="url(#cp02)"><g filter="url(#soft)">
<rect x="1207" y="234" width="548.5999999999999" height="508.6" fill="#EC8008"/>
<rect x="1207" y="234" width="548.5999999999999" height="508.6" filter="url(#rd02)" opacity="0.9"/>
<rect x="1207" y="234" width="548.5999999999999" height="508.6" filter="url(#ce02)" opacity="0.9"/>
<rect x="1207" y="234" width="548.5999999999999" height="508.6" filter="url(#ml02)"/>
<rect x="1207" y="234" width="548.5999999999999" height="508.6" filter="url(#md02)"/>
<rect x="1207" y="234" width="548.5999999999999" height="508.6" filter="url(#nl02)"/>
<rect x="1207" y="234" width="548.5999999999999" height="508.6" filter="url(#nd02)"/>
<g filter="url(#sh)">
<ellipse cx="1298.9" cy="463.5" rx="88.5" ry="76.5" fill="#D69008" opacity="1"/>
<ellipse cx="1357.9" cy="299.6" rx="82.6" ry="46.2" fill="#D8920A" opacity="1"/>
<ellipse cx="1465.2" cy="339.3" rx="38.6" ry="51.1" fill="#D8920A" opacity="1"/>
<ellipse cx="1545.7" cy="314.5" rx="44.5" ry="46.2" fill="#D8920A" opacity="1"/>
<ellipse cx="1679.8" cy="463.5" rx="82.6" ry="51.1" fill="#D69008" opacity="1"/>
<ellipse cx="1631.5" cy="597.6" rx="115.9" ry="61.1" fill="#D69008" opacity="1"/>
<ellipse cx="1347.2" cy="686.9" rx="110.5" ry="51.1" fill="#D69008" opacity="1"/>
<ellipse cx="1357.9" cy="577.7" rx="44.5" ry="30.8" fill="#D8920A" opacity="1"/>
<ellipse cx="1508.1" cy="403.9" rx="38.6" ry="35.8" fill="#D8920A" opacity="1"/>
<ellipse cx="1722.8" cy="314.5" rx="38.6" ry="61.1" fill="#D8920A" opacity="1"/>
<ellipse cx="1631.5" cy="716.7" rx="66.0" ry="25.3" fill="#D69008" opacity="1"/>
<ellipse cx="1239.8" cy="339.3" rx="27.4" ry="35.8" fill="#D8920A" opacity="1"/>
<ellipse cx="1470.6" cy="538.0" rx="27.4" ry="25.3" fill="#D8920A" opacity="1"/>
<ellipse cx="1239.8" cy="711.8" rx="33.3" ry="25.3" fill="#D69008" opacity="1"/>
<ellipse cx="1438.4" cy="463.5" rx="22.0" ry="25.3" fill="#D8920A" opacity="1"/>
<ellipse cx="1561.8" cy="488.3" rx="22.0" ry="25.3" fill="#D8920A" opacity="1"/>
</g>
<rect x="1207" y="234" width="548.5999999999999" height="508.6" filter="url(#ml02)" opacity="0.5"/>
<rect x="1207" y="234" width="548.5999999999999" height="508.6" filter="url(#ce02)" opacity="0.35"/>
<g filter="url(#sb)">
<ellipse cx="1429.1" cy="654.2" rx="25.0" ry="18.3" fill="#FFB418" opacity="0.5" transform="rotate(98 1427.6 652.2)"/>
<ellipse cx="1427.6" cy="652.2" rx="22.0" ry="15.3" fill="#F0520A" opacity="0.78" transform="rotate(98 1427.6 652.2)"/>
<ellipse cx="1241.3" cy="540.0" rx="14.0" ry="12.4" fill="#FFB418" opacity="0.5" transform="rotate(12 1239.8 538.0)"/>
<ellipse cx="1239.8" cy="538.0" rx="11.0" ry="9.4" fill="#F0520A" opacity="0.85" transform="rotate(12 1239.8 538.0)"/>
<ellipse cx="1712.0" cy="523.1" rx="12.0" ry="8.4" fill="#F0520A" opacity="0.74" transform="rotate(42 1712.0 523.1)"/>
</g>
</g></g>
<text x="1536.1" y="690.3" font-size="56.5" textLength="183.4" lengthAdjust="spacingAndGlyphs" style="fill:#1c0900">100 µm</text>
<rect x="1648.3" y="721.2" width="70.8" height="9.9" fill="#0c0100"/>
<g clip-path="url(#cp03)"><g filter="url(#soft)">
<rect x="1756" y="234" width="545.9000000000001" height="508.6" fill="#E06802"/>
<g filter="url(#bl)">
<ellipse cx="1815.4" cy="538.0" rx="80.1" ry="149.0" fill="#D66400" opacity="0.5"/>
<ellipse cx="2215.8" cy="389.0" rx="53.4" ry="149.0" fill="#EA7C08" opacity="0.5"/>
<ellipse cx="2029.0" cy="289.7" rx="160.2" ry="49.7" fill="#E47206" opacity="0.4"/>
</g>
<rect x="1756" y="234" width="545.9000000000001" height="508.6" filter="url(#ml03)"/>
<rect x="1756" y="234" width="545.9000000000001" height="508.6" filter="url(#md03)"/>
<rect x="1756" y="234" width="545.9000000000001" height="508.6" filter="url(#nl03)"/>
<rect x="1756" y="234" width="545.9000000000001" height="508.6" filter="url(#nd03)"/>
<rect x="1756" y="234" width="545.9000000000001" height="508.6" filter="url(#cd03)" opacity="0.5"/>
<rect x="1756" y="234" width="545.9000000000001" height="508.6" filter="url(#ce03)" opacity="0.85"/>
<rect x="1756" y="234" width="545.9000000000001" height="508.6" filter="url(#rd03)" opacity="0.8"/>
<g filter="url(#sb)">
<ellipse cx="1911.5" cy="538.0" rx="11.0" ry="10.5" fill="#F0480A" opacity="0.83" transform="rotate(21 1911.5 538.0)"/>
<ellipse cx="1888.0" cy="291.2" rx="4.2" ry="4.0" fill="#F0480A" opacity="0.66" transform="rotate(99 1888.0 291.2)"/>
<ellipse cx="1844.7" cy="273.0" rx="4.2" ry="3.7" fill="#F0480A" opacity="0.83" transform="rotate(60 1844.7 273.0)"/>
<ellipse cx="2253.6" cy="639.5" rx="8.3" ry="7.2" fill="#FFA018" opacity="0.5" transform="rotate(95 2252.1 637.5)"/>
<ellipse cx="2252.1" cy="637.5" rx="5.3" ry="4.2" fill="#F0480A" opacity="0.61" transform="rotate(95 2252.1 637.5)"/>
<ellipse cx="1880.5" cy="506.5" rx="3.8" ry="3.2" fill="#F0480A" opacity="0.78" transform="rotate(88 1880.5 506.5)"/>
<ellipse cx="1854.2" cy="292.7" rx="3.6" ry="2.4" fill="#F0480A" opacity="0.76" transform="rotate(65 1854.2 292.7)"/>
<ellipse cx="2257.2" cy="651.6" rx="5.4" ry="3.3" fill="#F0480A" opacity="0.63" transform="rotate(151 2257.2 651.6)"/>
<ellipse cx="2189.4" cy="336.1" rx="3.9" ry="3.2" fill="#F0480A" opacity="0.69" transform="rotate(69 2189.4 336.1)"/>
<ellipse cx="2096.7" cy="603.5" rx="5.6" ry="3.9" fill="#F0480A" opacity="0.63" transform="rotate(88 2096.7 603.5)"/>
<ellipse cx="2231.9" cy="283.1" rx="4.8" ry="3.1" fill="#F0480A" opacity="0.75" transform="rotate(112 2231.9 283.1)"/>
<ellipse cx="2120.6" cy="491.3" rx="3.5" ry="2.7" fill="#F0480A" opacity="0.62" transform="rotate(154 2120.6 491.3)"/>
<ellipse cx="2016.3" cy="286.4" rx="8.8" ry="8.5" fill="#FFA018" opacity="0.5" transform="rotate(35 2014.8 284.4)"/>
<ellipse cx="2014.8" cy="284.4" rx="5.8" ry="5.5" fill="#F0480A" opacity="0.85" transform="rotate(35 2014.8 284.4)"/>
<ellipse cx="2225.6" cy="514.0" rx="6.9" ry="6.0" fill="#FFA018" opacity="0.5" transform="rotate(144 2224.1 512.0)"/>
<ellipse cx="2224.1" cy="512.0" rx="3.9" ry="3.0" fill="#F0480A" opacity="0.86" transform="rotate(144 2224.1 512.0)"/>
<ellipse cx="2248.7" cy="526.2" rx="8.6" ry="6.8" fill="#FFA018" opacity="0.5" transform="rotate(27 2247.2 524.2)"/>
<ellipse cx="2247.2" cy="524.2" rx="5.6" ry="3.8" fill="#F0480A" opacity="0.70" transform="rotate(27 2247.2 524.2)"/>
<ellipse cx="2214.8" cy="492.5" rx="4.2" ry="3.5" fill="#F0480A" opacity="0.60" transform="rotate(163 2214.8 492.5)"/>
<ellipse cx="2083.3" cy="456.1" rx="6.5" ry="5.5" fill="#FFA018" opacity="0.5" transform="rotate(98 2081.8 454.1)"/>
<ellipse cx="2081.8" cy="454.1" rx="3.5" ry="2.5" fill="#F0480A" opacity="0.81" transform="rotate(98 2081.8 454.1)"/>
<ellipse cx="1926.4" cy="645.5" rx="6.1" ry="5.5" fill="#FFA018" opacity="0.5" transform="rotate(14 1924.9 643.5)"/>
<ellipse cx="1924.9" cy="643.5" rx="3.1" ry="2.5" fill="#F0480A" opacity="0.85" transform="rotate(14 1924.9 643.5)"/>
<ellipse cx="1786.7" cy="551.0" rx="3.8" ry="2.9" fill="#F0480A" opacity="0.79" transform="rotate(138 1786.7 551.0)"/>
<ellipse cx="2048.9" cy="476.0" rx="7.0" ry="6.5" fill="#FFA018" opacity="0.5" transform="rotate(110 2047.4 474.0)"/>
<ellipse cx="2047.4" cy="474.0" rx="4.0" ry="3.5" fill="#F0480A" opacity="0.87" transform="rotate(110 2047.4 474.0)"/>
<ellipse cx="2295.9" cy="339.1" rx="7.2" ry="6.3" fill="#FFA018" opacity="0.5" transform="rotate(164 2294.4 337.1)"/>
<ellipse cx="2294.4" cy="337.1" rx="4.2" ry="3.3" fill="#F0480A" opacity="0.86" transform="rotate(164 2294.4 337.1)"/>
<ellipse cx="1871.7" cy="556.2" rx="6.8" ry="6.5" fill="#FFA018" opacity="0.5" transform="rotate(110 1870.2 554.2)"/>
<ellipse cx="1870.2" cy="554.2" rx="3.8" ry="3.5" fill="#F0480A" opacity="0.64" transform="rotate(110 1870.2 554.2)"/>
<ellipse cx="1952.0" cy="610.9" rx="4.0" ry="3.6" fill="#F0480A" opacity="0.64" transform="rotate(65 1952.0 610.9)"/>
<ellipse cx="2060.2" cy="689.1" rx="3.3" ry="2.1" fill="#F0480A" opacity="0.65" transform="rotate(26 2060.2 689.1)"/>
<ellipse cx="1796.4" cy="355.7" rx="8.3" ry="8.1" fill="#FFA018" opacity="0.5" transform="rotate(67 1794.9 353.7)"/>
<ellipse cx="1794.9" cy="353.7" rx="5.3" ry="5.1" fill="#F0480A" opacity="0.71" transform="rotate(67 1794.9 353.7)"/>
<ellipse cx="2092.1" cy="359.9" rx="7.0" ry="6.4" fill="#FFA018" opacity="0.5" transform="rotate(17 2090.6 357.9)"/>
<ellipse cx="2090.6" cy="357.9" rx="4.0" ry="3.4" fill="#F0480A" opacity="0.88" transform="rotate(17 2090.6 357.9)"/>
<ellipse cx="1858.3" cy="469.9" rx="6.1" ry="5.1" fill="#FFA018" opacity="0.5" transform="rotate(118 1856.8 467.9)"/>
<ellipse cx="1856.8" cy="467.9" rx="3.1" ry="2.1" fill="#F0480A" opacity="0.69" transform="rotate(118 1856.8 467.9)"/>
<ellipse cx="2134.3" cy="684.9" rx="5.9" ry="3.6" fill="#F0480A" opacity="0.85" transform="rotate(4 2134.3 684.9)"/>
<ellipse cx="2154.4" cy="716.7" rx="3.1" ry="2.8" fill="#F0480A" opacity="0.65" transform="rotate(145 2154.4 716.7)"/>
<ellipse cx="1917.8" cy="721.7" rx="8.3" ry="7.4" fill="#FFA018" opacity="0.5" transform="rotate(89 1916.3 719.7)"/>
<ellipse cx="1916.3" cy="719.7" rx="5.3" ry="4.4" fill="#F0480A" opacity="0.88" transform="rotate(89 1916.3 719.7)"/>
<ellipse cx="1982.6" cy="710.4" rx="7.9" ry="7.4" fill="#FFA018" opacity="0.5" transform="rotate(174 1981.1 708.4)"/>
<ellipse cx="1981.1" cy="708.4" rx="4.9" ry="4.4" fill="#F0480A" opacity="0.80" transform="rotate(174 1981.1 708.4)"/>
<ellipse cx="2198.7" cy="385.7" rx="3.6" ry="3.1" fill="#F0480A" opacity="0.85" transform="rotate(134 2198.7 385.7)"/>
<ellipse cx="2000.6" cy="309.8" rx="7.1" ry="6.0" fill="#FFA018" opacity="0.5" transform="rotate(167 1999.1 307.8)"/>
<ellipse cx="1999.1" cy="307.8" rx="4.1" ry="3.0" fill="#F0480A" opacity="0.78" transform="rotate(167 1999.1 307.8)"/>
<ellipse cx="2277.0" cy="406.5" rx="6.0" ry="5.9" fill="#FFA018" opacity="0.5" transform="rotate(127 2275.5 404.5)"/>
<ellipse cx="2275.5" cy="404.5" rx="3.0" ry="2.9" fill="#F0480A" opacity="0.67" transform="rotate(127 2275.5 404.5)"/>
<ellipse cx="1785.9" cy="324.2" rx="5.4" ry="3.9" fill="#F0480A" opacity="0.87" transform="rotate(113 1785.9 324.2)"/>
<ellipse cx="1955.7" cy="384.2" rx="3.3" ry="2.5" fill="#F0480A" opacity="0.69" transform="rotate(72 1955.7 384.2)"/>
<ellipse cx="2287.7" cy="452.5" rx="6.6" ry="5.8" fill="#FFA018" opacity="0.5" transform="rotate(2 2286.2 450.5)"/>
<ellipse cx="2286.2" cy="450.5" rx="3.6" ry="2.8" fill="#F0480A" opacity="0.76" transform="rotate(2 2286.2 450.5)"/>
<ellipse cx="1795.2" cy="269.4" rx="6.5" ry="6.1" fill="#FFA018" opacity="0.5" transform="rotate(111 1793.7 267.4)"/>
<ellipse cx="1793.7" cy="267.4" rx="3.5" ry="3.1" fill="#F0480A" opacity="0.89" transform="rotate(111 1793.7 267.4)"/>
<ellipse cx="2124.9" cy="316.3" rx="6.1" ry="5.7" fill="#FFA018" opacity="0.5" transform="rotate(28 2123.4 314.3)"/>
<ellipse cx="2123.4" cy="314.3" rx="3.1" ry="2.7" fill="#F0480A" opacity="0.89" transform="rotate(28 2123.4 314.3)"/>
<ellipse cx="2024.0" cy="363.7" rx="6.0" ry="6.0" fill="#F0480A" opacity="0.69" transform="rotate(166 2024.0 363.7)"/>
<ellipse cx="1828.8" cy="504.8" rx="8.3" ry="6.4" fill="#FFA018" opacity="0.5" transform="rotate(46 1827.3 502.8)"/>
<ellipse cx="1827.3" cy="502.8" rx="5.3" ry="3.4" fill="#F0480A" opacity="0.88" transform="rotate(46 1827.3 502.8)"/>
<ellipse cx="1982.0" cy="732.5" rx="7.4" ry="7.2" fill="#FFA018" opacity="0.5" transform="rotate(140 1980.5 730.5)"/>
<ellipse cx="1980.5" cy="730.5" rx="4.4" ry="4.2" fill="#F0480A" opacity="0.67" transform="rotate(140 1980.5 730.5)"/>
<ellipse cx="1892.6" cy="445.9" rx="6.1" ry="5.2" fill="#FFA018" opacity="0.5" transform="rotate(171 1891.1 443.9)"/>
<ellipse cx="1891.1" cy="443.9" rx="3.1" ry="2.2" fill="#F0480A" opacity="0.84" transform="rotate(171 1891.1 443.9)"/>
<ellipse cx="1986.9" cy="363.4" rx="5.7" ry="4.9" fill="#F0480A" opacity="0.68" transform="rotate(98 1986.9 363.4)"/>
<ellipse cx="2207.2" cy="489.6" rx="6.1" ry="5.5" fill="#FFA018" opacity="0.5" transform="rotate(28 2205.7 487.6)"/>
<ellipse cx="2205.7" cy="487.6" rx="3.1" ry="2.5" fill="#F0480A" opacity="0.61" transform="rotate(28 2205.7 487.6)"/>
<ellipse cx="1899.3" cy="362.4" rx="6.6" ry="5.6" fill="#FFA018" opacity="0.5" transform="rotate(22 1897.8 360.4)"/>
<ellipse cx="1897.8" cy="360.4" rx="3.6" ry="2.6" fill="#F0480A" opacity="0.90" transform="rotate(22 1897.8 360.4)"/>
<ellipse cx="1885.6" cy="671.9" rx="3.4" ry="2.5" fill="#F0480A" opacity="0.82" transform="rotate(160 1885.6 671.9)"/>
<ellipse cx="1789.4" cy="700.9" rx="4.7" ry="4.0" fill="#F0480A" opacity="0.82" transform="rotate(171 1789.4 700.9)"/>
<ellipse cx="2290.9" cy="440.1" rx="5.7" ry="4.7" fill="#F0480A" opacity="0.77" transform="rotate(125 2290.9 440.1)"/>
<ellipse cx="2111.2" cy="632.7" rx="5.2" ry="4.2" fill="#F0480A" opacity="0.75" transform="rotate(28 2111.2 632.7)"/>
<ellipse cx="2025.9" cy="286.1" rx="3.6" ry="2.3" fill="#F0480A" opacity="0.68" transform="rotate(30 2025.9 286.1)"/>
<ellipse cx="2228.5" cy="686.8" rx="5.8" ry="4.4" fill="#F0480A" opacity="0.70" transform="rotate(123 2228.5 686.8)"/>
<ellipse cx="1943.2" cy="568.2" rx="8.4" ry="7.1" fill="#FFA018" opacity="0.5" transform="rotate(76 1941.7 566.2)"/>
<ellipse cx="1941.7" cy="566.2" rx="5.4" ry="4.1" fill="#F0480A" opacity="0.86" transform="rotate(76 1941.7 566.2)"/>
<ellipse cx="2106.5" cy="646.6" rx="7.6" ry="5.8" fill="#FFA018" opacity="0.5" transform="rotate(173 2105.0 644.6)"/>
<ellipse cx="2105.0" cy="644.6" rx="4.6" ry="2.8" fill="#F0480A" opacity="0.65" transform="rotate(173 2105.0 644.6)"/>
<ellipse cx="2113.1" cy="582.6" rx="6.8" ry="6.6" fill="#FFA018" opacity="0.5" transform="rotate(148 2111.6 580.6)"/>
<ellipse cx="2111.6" cy="580.6" rx="3.8" ry="3.6" fill="#F0480A" opacity="0.77" transform="rotate(148 2111.6 580.6)"/>
<ellipse cx="2256.2" cy="716.9" rx="6.2" ry="5.5" fill="#FFA018" opacity="0.5" transform="rotate(129 2254.7 714.9)"/>
<ellipse cx="2254.7" cy="714.9" rx="3.2" ry="2.5" fill="#F0480A" opacity="0.85" transform="rotate(129 2254.7 714.9)"/>
<ellipse cx="2280.5" cy="717.6" rx="5.0" ry="5.0" fill="#F0480A" opacity="0.88" transform="rotate(127 2280.5 717.6)"/>
<ellipse cx="1785.8" cy="686.4" rx="3.4" ry="2.5" fill="#F0480A" opacity="0.78" transform="rotate(153 1785.8 686.4)"/>
<ellipse cx="2279.1" cy="571.3" rx="3.2" ry="2.0" fill="#F0480A" opacity="0.69" transform="rotate(111 2279.1 571.3)"/>
<ellipse cx="1851.3" cy="555.4" rx="4.7" ry="4.0" fill="#F0480A" opacity="0.61" transform="rotate(161 1851.3 555.4)"/>
<ellipse cx="2160.6" cy="700.6" rx="3.7" ry="3.1" fill="#F0480A" opacity="0.80" transform="rotate(46 2160.6 700.6)"/>
<ellipse cx="1763.7" cy="698.0" rx="3.0" ry="2.2" fill="#F0480A" opacity="0.70" transform="rotate(161 1763.7 698.0)"/>
</g>
</g></g>
<text x="2081.6" y="691.2" font-size="56.5" textLength="183.7" lengthAdjust="spacingAndGlyphs" style="fill:#1c0900">100 µm</text>
<rect x="2196.1" y="721.7" width="69.7" height="9.7" fill="#0c0100"/>
<g clip-path="url(#cp10)"><g filter="url(#soft)">
<rect x="101.4" y="750" width="548.4" height="510.9000000000001" fill="#EE7E00"/>
<g filter="url(#bl)">
<ellipse cx="161.0" cy="1155.1" rx="107.3" ry="124.7" fill="#EC8E0A" opacity="0.5"/>
<ellipse cx="295.1" cy="1055.3" rx="80.5" ry="29.9" fill="#EE9C16" opacity="0.5"/>
<ellipse cx="536.5" cy="830.8" rx="107.3" ry="74.8" fill="#E07800" opacity="0.5"/>
</g>
<rect x="101.4" y="750" width="548.4" height="510.9000000000001" filter="url(#ml10)"/>
<rect x="101.4" y="750" width="548.4" height="510.9000000000001" filter="url(#md10)"/>
<rect x="2" y="630" width="747" height="752" filter="url(#fl10)" transform="rotate(50 375.6 1005.5)"/>
<rect x="2" y="630" width="747" height="752" filter="url(#fd10)" transform="rotate(50 375.6 1005.5)"/>
<rect x="2" y="630" width="747" height="752" filter="url(#hl10)" transform="rotate(50 375.6 1005.5)"/>
<rect x="2" y="630" width="747" height="752" filter="url(#rd10)" opacity="0.45" transform="rotate(50 375.6 1005.5)"/>
<g filter="url(#sb)">
<ellipse cx="135.7" cy="1207.0" rx="10.0" ry="8.2" fill="#FFB018" opacity="0.5" transform="rotate(30 134.2 1205.0)"/>
<ellipse cx="134.2" cy="1205.0" rx="7.0" ry="5.2" fill="#F25A08" opacity="0.62" transform="rotate(30 134.2 1205.0)"/>
<ellipse cx="443.0" cy="1128.1" rx="8.4" ry="6.9" fill="#FFB018" opacity="0.5" transform="rotate(109 441.5 1126.1)"/>
<ellipse cx="441.5" cy="1126.1" rx="5.4" ry="3.9" fill="#F25A08" opacity="0.80" transform="rotate(109 441.5 1126.1)"/>
<ellipse cx="612.9" cy="1125.1" rx="5.8" ry="4.2" fill="#F25A08" opacity="0.74" transform="rotate(56 612.9 1125.1)"/>
<ellipse cx="123.0" cy="988.3" rx="5.8" ry="4.2" fill="#F25A08" opacity="0.62" transform="rotate(87 123.0 988.3)"/>
<ellipse cx="455.5" cy="1205.5" rx="3.3" ry="3.3" fill="#F25A08" opacity="0.85" transform="rotate(4 455.5 1205.5)"/>
<ellipse cx="360.5" cy="881.0" rx="7.6" ry="5.8" fill="#FFB018" opacity="0.5" transform="rotate(142 359.0 879.0)"/>
<ellipse cx="359.0" cy="879.0" rx="4.6" ry="2.8" fill="#F25A08" opacity="0.77" transform="rotate(142 359.0 879.0)"/>
<ellipse cx="416.8" cy="764.5" rx="6.7" ry="5.2" fill="#FFB018" opacity="0.5" transform="rotate(8 415.3 762.5)"/>
<ellipse cx="415.3" cy="762.5" rx="3.7" ry="2.2" fill="#F25A08" opacity="0.89" transform="rotate(8 415.3 762.5)"/>
<ellipse cx="257.3" cy="1213.2" rx="5.3" ry="3.6" fill="#F25A08" opacity="0.88" transform="rotate(136 257.3 1213.2)"/>
<ellipse cx="194.5" cy="1155.7" rx="6.4" ry="5.5" fill="#FFB018" opacity="0.5" transform="rotate(64 193.0 1153.7)"/>
<ellipse cx="193.0" cy="1153.7" rx="3.4" ry="2.5" fill="#F25A08" opacity="0.83" transform="rotate(64 193.0 1153.7)"/>
<ellipse cx="438.6" cy="819.2" rx="3.0" ry="1.9" fill="#F25A08" opacity="0.86" transform="rotate(135 438.6 819.2)"/>
<ellipse cx="576.3" cy="862.5" rx="6.6" ry="5.2" fill="#FFB018" opacity="0.5" transform="rotate(170 574.8 860.5)"/>
<ellipse cx="574.8" cy="860.5" rx="3.6" ry="2.2" fill="#F25A08" opacity="0.70" transform="rotate(170 574.8 860.5)"/>
<ellipse cx="635.9" cy="1193.2" rx="6.9" ry="6.3" fill="#FFB018" opacity="0.5" transform="rotate(165 634.4 1191.2)"/>
<ellipse cx="634.4" cy="1191.2" rx="3.9" ry="3.3" fill="#F25A08" opacity="0.88" transform="rotate(165 634.4 1191.2)"/>
<ellipse cx="624.6" cy="1027.0" rx="8.0" ry="7.1" fill="#FFB018" opacity="0.5" transform="rotate(56 623.1 1025.0)"/>
<ellipse cx="623.1" cy="1025.0" rx="5.0" ry="4.1" fill="#F25A08" opacity="0.65" transform="rotate(56 623.1 1025.0)"/>
<ellipse cx="217.2" cy="1225.5" rx="5.1" ry="3.2" fill="#F25A08" opacity="0.90" transform="rotate(27 217.2 1225.5)"/>
<ellipse cx="625.9" cy="1201.9" rx="3.9" ry="2.6" fill="#F25A08" opacity="0.76" transform="rotate(9 625.9 1201.9)"/>
</g>
</g></g>
<text x="427.5" y="1209.3" font-size="56.5" textLength="183.7" lengthAdjust="spacingAndGlyphs" style="fill:#1c0900">100 µm</text>
<rect x="544.6" y="1240.8" width="71.3" height="9.1" fill="#0c0100"/>
<g clip-path="url(#cp11)"><g filter="url(#soft)">
<rect x="652.2" y="750" width="548.0999999999999" height="510.9000000000001" fill="#E66000"/>
<g filter="url(#bl)">
<ellipse cx="1022.7" cy="1030.4" rx="64.3" ry="59.9" fill="#EC4802" opacity="0.6"/>
<ellipse cx="819.0" cy="1180.1" rx="64.3" ry="39.9" fill="#EA5202" opacity="0.5"/>
<ellipse cx="765.4" cy="905.7" rx="80.4" ry="59.9" fill="#E67208" opacity="0.4"/>
<ellipse cx="1140.7" cy="805.9" rx="53.6" ry="49.9" fill="#E67408" opacity="0.4"/>
</g>
<rect x="652.2" y="750" width="548.0999999999999" height="510.9000000000001" filter="url(#ml11)"/>
<rect x="652.2" y="750" width="548.0999999999999" height="510.9000000000001" filter="url(#md11)"/>
<rect x="551" y="632" width="751" height="747" filter="url(#fl11)" transform="rotate(40 926.2 1005.5)"/>
<rect x="551" y="632" width="751" height="747" filter="url(#fd11)" transform="rotate(40 926.2 1005.5)"/>
<rect x="551" y="632" width="751" height="747" filter="url(#hl11)" transform="rotate(40 926.2 1005.5)"/>
<rect x="551" y="632" width="751" height="747" filter="url(#rd11)" opacity="0.75" transform="rotate(40 926.2 1005.5)"/>
<g filter="url(#sb)">
<ellipse cx="1085.0" cy="1168.1" rx="7.9" ry="7.4" fill="#FF980E" opacity="0.5" transform="rotate(48 1083.5 1166.1)"/>
<ellipse cx="1083.5" cy="1166.1" rx="4.9" ry="4.4" fill="#F24408" opacity="0.84" transform="rotate(48 1083.5 1166.1)"/>
<ellipse cx="800.0" cy="758.2" rx="8.7" ry="6.8" fill="#FF980E" opacity="0.5" transform="rotate(4 798.5 756.2)"/>
<ellipse cx="798.5" cy="756.2" rx="5.7" ry="3.8" fill="#F24408" opacity="0.78" transform="rotate(4 798.5 756.2)"/>
<ellipse cx="911.8" cy="1137.0" rx="7.5" ry="6.3" fill="#FF980E" opacity="0.5" transform="rotate(46 910.3 1135.0)"/>
<ellipse cx="910.3" cy="1135.0" rx="4.5" ry="3.3" fill="#F24408" opacity="0.88" transform="rotate(46 910.3 1135.0)"/>
<ellipse cx="1071.1" cy="892.0" rx="6.2" ry="4.4" fill="#F24408" opacity="0.78" transform="rotate(74 1071.1 892.0)"/>
<ellipse cx="1051.0" cy="964.5" rx="8.2" ry="6.6" fill="#FF980E" opacity="0.5" transform="rotate(85 1049.5 962.5)"/>
<ellipse cx="1049.5" cy="962.5" rx="5.2" ry="3.6" fill="#F24408" opacity="0.64" transform="rotate(85 1049.5 962.5)"/>
<ellipse cx="1023.8" cy="852.3" rx="5.2" ry="3.9" fill="#F24408" opacity="0.70" transform="rotate(55 1023.8 852.3)"/>
<ellipse cx="1089.8" cy="888.5" rx="6.2" ry="5.4" fill="#F24408" opacity="0.71" transform="rotate(175 1089.8 888.5)"/>
<ellipse cx="1027.3" cy="1179.2" rx="7.3" ry="6.7" fill="#FF980E" opacity="0.5" transform="rotate(58 1025.8 1177.2)"/>
<ellipse cx="1025.8" cy="1177.2" rx="4.3" ry="3.7" fill="#F24408" opacity="0.75" transform="rotate(58 1025.8 1177.2)"/>
<ellipse cx="709.6" cy="1157.3" rx="9.2" ry="8.7" fill="#FF980E" opacity="0.5" transform="rotate(169 708.1 1155.3)"/>
<ellipse cx="708.1" cy="1155.3" rx="6.2" ry="5.7" fill="#F24408" opacity="0.60" transform="rotate(169 708.1 1155.3)"/>
<ellipse cx="898.4" cy="804.8" rx="6.8" ry="6.0" fill="#FF980E" opacity="0.5" transform="rotate(10 896.9 802.8)"/>
<ellipse cx="896.9" cy="802.8" rx="3.8" ry="3.0" fill="#F24408" opacity="0.83" transform="rotate(10 896.9 802.8)"/>
<ellipse cx="1000.1" cy="903.3" rx="9.8" ry="7.4" fill="#FF980E" opacity="0.5" transform="rotate(129 998.6 901.3)"/>
<ellipse cx="998.6" cy="901.3" rx="6.8" ry="4.4" fill="#F24408" opacity="0.88" transform="rotate(129 998.6 901.3)"/>
<ellipse cx="975.2" cy="858.2" rx="8.6" ry="8.3" fill="#FF980E" opacity="0.5" transform="rotate(11 973.7 856.2)"/>
<ellipse cx="973.7" cy="856.2" rx="5.6" ry="5.3" fill="#F24408" opacity="0.88" transform="rotate(11 973.7 856.2)"/>
<ellipse cx="851.4" cy="1221.3" rx="6.6" ry="5.6" fill="#F24408" opacity="0.84" transform="rotate(76 851.4 1221.3)"/>
<ellipse cx="935.6" cy="1079.6" rx="8.8" ry="7.6" fill="#FF980E" opacity="0.5" transform="rotate(84 934.1 1077.6)"/>
<ellipse cx="934.1" cy="1077.6" rx="5.8" ry="4.6" fill="#F24408" opacity="0.71" transform="rotate(84 934.1 1077.6)"/>
<ellipse cx="1090.0" cy="1243.1" rx="3.1" ry="2.0" fill="#F24408" opacity="0.64" transform="rotate(113 1090.0 1243.1)"/>
<ellipse cx="853.4" cy="1058.2" rx="7.2" ry="6.6" fill="#FF980E" opacity="0.5" transform="rotate(18 851.9 1056.2)"/>
<ellipse cx="851.9" cy="1056.2" rx="4.2" ry="3.6" fill="#F24408" opacity="0.79" transform="rotate(18 851.9 1056.2)"/>
<ellipse cx="974.0" cy="800.7" rx="6.5" ry="5.1" fill="#F24408" opacity="0.81" transform="rotate(162 974.0 800.7)"/>
<ellipse cx="941.3" cy="816.3" rx="8.7" ry="6.7" fill="#FF980E" opacity="0.5" transform="rotate(150 939.8 814.3)"/>
<ellipse cx="939.8" cy="814.3" rx="5.7" ry="3.7" fill="#F24408" opacity="0.79" transform="rotate(150 939.8 814.3)"/>
<ellipse cx="825.6" cy="853.9" rx="4.9" ry="4.8" fill="#F24408" opacity="0.74" transform="rotate(163 825.6 853.9)"/>
<ellipse cx="733.7" cy="862.7" rx="9.5" ry="8.7" fill="#FF980E" opacity="0.5" transform="rotate(142 732.2 860.7)"/>
<ellipse cx="732.2" cy="860.7" rx="6.5" ry="5.7" fill="#F24408" opacity="0.88" transform="rotate(142 732.2 860.7)"/>
<ellipse cx="1032.5" cy="762.2" rx="6.1" ry="5.9" fill="#F24408" opacity="0.73" transform="rotate(79 1032.5 762.2)"/>
<ellipse cx="668.8" cy="924.1" rx="9.6" ry="7.7" fill="#FF980E" opacity="0.5" transform="rotate(128 667.3 922.1)"/>
<ellipse cx="667.3" cy="922.1" rx="6.6" ry="4.7" fill="#F24408" opacity="0.84" transform="rotate(128 667.3 922.1)"/>
<ellipse cx="990.7" cy="908.7" rx="4.5" ry="4.5" fill="#F24408" opacity="0.63" transform="rotate(51 990.7 908.7)"/>
<ellipse cx="866.8" cy="819.3" rx="7.0" ry="6.6" fill="#F24408" opacity="0.73" transform="rotate(50 866.8 819.3)"/>
<ellipse cx="688.6" cy="969.0" rx="9.0" ry="8.8" fill="#FF980E" opacity="0.5" transform="rotate(6 687.1 967.0)"/>
<ellipse cx="687.1" cy="967.0" rx="6.0" ry="5.8" fill="#F24408" opacity="0.84" transform="rotate(6 687.1 967.0)"/>
<ellipse cx="872.9" cy="1247.4" rx="7.0" ry="6.4" fill="#FF980E" opacity="0.5" transform="rotate(96 871.4 1245.4)"/>
<ellipse cx="871.4" cy="1245.4" rx="4.0" ry="3.4" fill="#F24408" opacity="0.65" transform="rotate(96 871.4 1245.4)"/>
<ellipse cx="1183.2" cy="1201.1" rx="5.7" ry="4.3" fill="#F24408" opacity="0.83" transform="rotate(9 1183.2 1201.1)"/>
<ellipse cx="1136.6" cy="981.1" rx="9.3" ry="9.2" fill="#FF980E" opacity="0.5" transform="rotate(126 1135.1 979.1)"/>
<ellipse cx="1135.1" cy="979.1" rx="6.3" ry="6.2" fill="#F24408" opacity="0.62" transform="rotate(126 1135.1 979.1)"/>
<ellipse cx="1086.5" cy="1015.8" rx="7.9" ry="7.4" fill="#FF980E" opacity="0.5" transform="rotate(21 1085.0 1013.8)"/>
<ellipse cx="1085.0" cy="1013.8" rx="4.9" ry="4.4" fill="#F24408" opacity="0.74" transform="rotate(21 1085.0 1013.8)"/>
<ellipse cx="1038.0" cy="962.1" rx="6.3" ry="5.7" fill="#FF980E" opacity="0.5" transform="rotate(14 1036.5 960.1)"/>
<ellipse cx="1036.5" cy="960.1" rx="3.3" ry="2.7" fill="#F24408" opacity="0.76" transform="rotate(14 1036.5 960.1)"/>
</g>
</g></g>
<text x="977.5" y="1210.3" font-size="56.5" textLength="183.7" lengthAdjust="spacingAndGlyphs" style="fill:#1c0900">100 µm</text>
<rect x="1094.9" y="1240.5" width="71.3" height="9.4" fill="#0c0100"/>
<g clip-path="url(#cp12)"><g filter="url(#soft)">
<rect x="1207" y="750" width="548.5999999999999" height="510.9000000000001" fill="#E48804"/>
<g filter="url(#bl)">
<ellipse cx="1374.0" cy="1005.5" rx="134.1" ry="124.7" fill="#D48C0A" opacity="0.6"/>
<ellipse cx="1642.3" cy="830.8" rx="107.3" ry="74.8" fill="#E26E04" opacity="0.5"/>
<ellipse cx="1239.8" cy="930.6" rx="32.2" ry="49.9" fill="#E2A81A" opacity="0.5"/>
<ellipse cx="1535.0" cy="1230.0" rx="42.9" ry="24.9" fill="#EAA81A" opacity="0.5"/>
</g>
<rect x="1207" y="750" width="548.5999999999999" height="510.9000000000001" filter="url(#ml12)"/>
<rect x="1207" y="750" width="548.5999999999999" height="510.9000000000001" filter="url(#md12)"/>
<rect x="1108" y="637" width="746" height="736" filter="url(#fl12)" transform="rotate(35 1481.3 1005.5)"/>
<rect x="1108" y="637" width="746" height="736" filter="url(#fd12)" transform="rotate(35 1481.3 1005.5)"/>
<rect x="1108" y="637" width="746" height="736" filter="url(#hl12)" transform="rotate(35 1481.3 1005.5)"/>
<rect x="1207" y="750" width="548.5999999999999" height="510.9000000000001" filter="url(#cd12)" opacity="0.5"/>
<rect x="1207" y="750" width="548.5999999999999" height="510.9000000000001" filter="url(#ce12)" opacity="0.7"/>
<rect x="1108" y="637" width="746" height="736" filter="url(#rd12)" opacity="0.6" transform="rotate(35 1481.3 1005.5)"/>
<g filter="url(#sb)">
<ellipse cx="1241.3" cy="907.7" rx="18.0" ry="12.1" fill="#FFB018" opacity="0.5" transform="rotate(83 1239.8 905.7)"/>
<ellipse cx="1239.8" cy="905.7" rx="15.0" ry="9.1" fill="#F2500A" opacity="0.64" transform="rotate(83 1239.8 905.7)"/>
<ellipse cx="1740.4" cy="832.8" rx="18.0" ry="12.4" fill="#FFB018" opacity="0.5" transform="rotate(138 1738.9 830.8)"/>
<ellipse cx="1738.9" cy="830.8" rx="15.0" ry="9.4" fill="#F2500A" opacity="0.67" transform="rotate(138 1738.9 830.8)"/>
<ellipse cx="1391.6" cy="807.9" rx="12.0" ry="9.8" fill="#FFB018" opacity="0.5" transform="rotate(157 1390.1 805.9)"/>
<ellipse cx="1390.1" cy="805.9" rx="9.0" ry="6.8" fill="#F2500A" opacity="0.73" transform="rotate(157 1390.1 805.9)"/>
<ellipse cx="1438.4" cy="1105.2" rx="11.0" ry="9.0" fill="#F2500A" opacity="0.86" transform="rotate(159 1438.4 1105.2)"/>
<ellipse cx="1388.3" cy="833.3" rx="9.3" ry="7.4" fill="#FFB018" opacity="0.5" transform="rotate(75 1386.8 831.3)"/>
<ellipse cx="1386.8" cy="831.3" rx="6.3" ry="4.4" fill="#F2500A" opacity="0.87" transform="rotate(75 1386.8 831.3)"/>
<ellipse cx="1253.4" cy="1025.4" rx="7.8" ry="7.7" fill="#FFB018" opacity="0.5" transform="rotate(27 1251.9 1023.4)"/>
<ellipse cx="1251.9" cy="1023.4" rx="4.8" ry="4.7" fill="#F2500A" opacity="0.67" transform="rotate(27 1251.9 1023.4)"/>
<ellipse cx="1245.6" cy="1011.2" rx="6.2" ry="5.2" fill="#FFB018" opacity="0.5" transform="rotate(87 1244.1 1009.2)"/>
<ellipse cx="1244.1" cy="1009.2" rx="3.2" ry="2.2" fill="#F2500A" opacity="0.68" transform="rotate(87 1244.1 1009.2)"/>
<ellipse cx="1447.2" cy="792.9" rx="6.5" ry="5.1" fill="#FFB018" opacity="0.5" transform="rotate(75 1445.7 790.9)"/>
<ellipse cx="1445.7" cy="790.9" rx="3.5" ry="2.1" fill="#F2500A" opacity="0.77" transform="rotate(75 1445.7 790.9)"/>
<ellipse cx="1442.3" cy="1170.5" rx="6.6" ry="6.6" fill="#FFB018" opacity="0.5" transform="rotate(124 1440.8 1168.5)"/>
<ellipse cx="1440.8" cy="1168.5" rx="3.6" ry="3.6" fill="#F2500A" opacity="0.79" transform="rotate(124 1440.8 1168.5)"/>
<ellipse cx="1332.8" cy="1069.0" rx="7.7" ry="6.7" fill="#F2500A" opacity="0.83" transform="rotate(10 1332.8 1069.0)"/>
<ellipse cx="1524.2" cy="955.9" rx="10.9" ry="10.5" fill="#FFB018" opacity="0.5" transform="rotate(144 1522.7 953.9)"/>
<ellipse cx="1522.7" cy="953.9" rx="7.9" ry="7.5" fill="#F2500A" opacity="0.72" transform="rotate(144 1522.7 953.9)"/>
<ellipse cx="1239.5" cy="1186.3" rx="7.4" ry="5.9" fill="#FFB018" opacity="0.5" transform="rotate(114 1238.0 1184.3)"/>
<ellipse cx="1238.0" cy="1184.3" rx="4.4" ry="2.9" fill="#F2500A" opacity="0.62" transform="rotate(114 1238.0 1184.3)"/>
<ellipse cx="1291.9" cy="816.8" rx="7.5" ry="6.1" fill="#FFB018" opacity="0.5" transform="rotate(29 1290.4 814.8)"/>
<ellipse cx="1290.4" cy="814.8" rx="4.5" ry="3.1" fill="#F2500A" opacity="0.62" transform="rotate(29 1290.4 814.8)"/>
<ellipse cx="1652.4" cy="848.2" rx="8.9" ry="6.5" fill="#FFB018" opacity="0.5" transform="rotate(27 1650.9 846.2)"/>
<ellipse cx="1650.9" cy="846.2" rx="5.9" ry="3.5" fill="#F2500A" opacity="0.71" transform="rotate(27 1650.9 846.2)"/>
<ellipse cx="1555.8" cy="941.8" rx="5.7" ry="3.5" fill="#F2500A" opacity="0.64" transform="rotate(157 1555.8 941.8)"/>
<ellipse cx="1248.2" cy="787.7" rx="7.0" ry="5.8" fill="#FFB018" opacity="0.5" transform="rotate(63 1246.7 785.7)"/>
<ellipse cx="1246.7" cy="785.7" rx="4.0" ry="2.8" fill="#F2500A" opacity="0.64" transform="rotate(63 1246.7 785.7)"/>
<ellipse cx="1579.6" cy="971.3" rx="7.6" ry="7.3" fill="#FFB018" opacity="0.5" transform="rotate(179 1578.1 969.3)"/>
<ellipse cx="1578.1" cy="969.3" rx="4.6" ry="4.3" fill="#F2500A" opacity="0.75" transform="rotate(179 1578.1 969.3)"/>
<ellipse cx="1528.7" cy="984.1" rx="7.5" ry="5.9" fill="#FFB018" opacity="0.5" transform="rotate(18 1527.2 982.1)"/>
<ellipse cx="1527.2" cy="982.1" rx="4.5" ry="2.9" fill="#F2500A" opacity="0.68" transform="rotate(18 1527.2 982.1)"/>
<ellipse cx="1640.8" cy="1106.7" rx="7.2" ry="6.9" fill="#FFB018" opacity="0.5" transform="rotate(29 1639.3 1104.7)"/>
<ellipse cx="1639.3" cy="1104.7" rx="4.2" ry="3.9" fill="#F2500A" opacity="0.89" transform="rotate(29 1639.3 1104.7)"/>
<ellipse cx="1522.7" cy="1020.0" rx="10.4" ry="9.0" fill="#FFB018" opacity="0.5" transform="rotate(26 1521.2 1018.0)"/>
<ellipse cx="1521.2" cy="1018.0" rx="7.4" ry="6.0" fill="#F2500A" opacity="0.61" transform="rotate(26 1521.2 1018.0)"/>
<ellipse cx="1604.4" cy="899.7" rx="7.9" ry="6.4" fill="#F2500A" opacity="0.81" transform="rotate(176 1604.4 899.7)"/>
<ellipse cx="1277.9" cy="966.6" rx="9.8" ry="7.8" fill="#FFB018" opacity="0.5" transform="rotate(66 1276.4 964.6)"/>
<ellipse cx="1276.4" cy="964.6" rx="6.8" ry="4.8" fill="#F2500A" opacity="0.83" transform="rotate(66 1276.4 964.6)"/>
<ellipse cx="1296.1" cy="1001.9" rx="6.2" ry="5.6" fill="#FFB018" opacity="0.5" transform="rotate(140 1294.6 999.9)"/>
<ellipse cx="1294.6" cy="999.9" rx="3.2" ry="2.6" fill="#F2500A" opacity="0.67" transform="rotate(140 1294.6 999.9)"/>
<ellipse cx="1571.6" cy="1137.4" rx="5.9" ry="5.4" fill="#F2500A" opacity="0.84" transform="rotate(177 1571.6 1137.4)"/>
<ellipse cx="1684.3" cy="914.5" rx="9.5" ry="9.0" fill="#FFB018" opacity="0.5" transform="rotate(133 1682.8 912.5)"/>
<ellipse cx="1682.8" cy="912.5" rx="6.5" ry="6.0" fill="#F2500A" opacity="0.76" transform="rotate(133 1682.8 912.5)"/>
<ellipse cx="1533.4" cy="1047.3" rx="8.3" ry="6.9" fill="#FFB018" opacity="0.5" transform="rotate(5 1531.9 1045.3)"/>
<ellipse cx="1531.9" cy="1045.3" rx="5.3" ry="3.9" fill="#F2500A" opacity="0.68" transform="rotate(5 1531.9 1045.3)"/>
<ellipse cx="1663.7" cy="1227.3" rx="5.4" ry="3.8" fill="#F2500A" opacity="0.73" transform="rotate(125 1663.7 1227.3)"/>
<ellipse cx="1569.4" cy="786.3" rx="6.5" ry="6.3" fill="#F2500A" opacity="0.71" transform="rotate(178 1569.4 786.3)"/>
<ellipse cx="1561.7" cy="1253.5" rx="10.1" ry="7.9" fill="#FFB018" opacity="0.5" transform="rotate(41 1560.2 1251.5)"/>
<ellipse cx="1560.2" cy="1251.5" rx="7.1" ry="4.9" fill="#F2500A" opacity="0.66" transform="rotate(41 1560.2 1251.5)"/>
<ellipse cx="1365.7" cy="948.5" rx="6.3" ry="5.4" fill="#F2500A" opacity="0.74" transform="rotate(162 1365.7 948.5)"/>
</g>
</g></g>
<text x="1533.5" y="1210.8" font-size="56.5" textLength="183.7" lengthAdjust="spacingAndGlyphs" style="fill:#1c0900">100 µm</text>
<rect x="1649.9" y="1242.8" width="70.0" height="9.5" fill="#0c0100"/>
<g clip-path="url(#cp13)"><g filter="url(#soft)">
<rect x="1756" y="750" width="545.9000000000001" height="510.9000000000001" fill="#E45400"/>
<g filter="url(#bl)">
<ellipse cx="1815.4" cy="830.8" rx="64.1" ry="74.8" fill="#E64400" opacity="0.5"/>
<ellipse cx="2029.0" cy="1005.5" rx="160.2" ry="99.8" fill="#E06002" opacity="0.4"/>
<ellipse cx="2215.8" cy="905.7" rx="53.4" ry="99.8" fill="#E86804" opacity="0.4"/>
</g>
<rect x="1756" y="750" width="545.9000000000001" height="510.9000000000001" filter="url(#ml13)"/>
<rect x="1756" y="750" width="545.9000000000001" height="510.9000000000001" filter="url(#md13)"/>
<rect x="1656" y="631" width="745" height="750" filter="url(#fl13)" transform="rotate(-50 2029.0 1005.5)"/>
<rect x="1656" y="631" width="745" height="750" filter="url(#fd13)" transform="rotate(-50 2029.0 1005.5)"/>
<rect x="1656" y="631" width="745" height="750" filter="url(#hl13)" transform="rotate(-50 2029.0 1005.5)"/>
<rect x="1656" y="631" width="745" height="750" filter="url(#rd13)" opacity="0.7" transform="rotate(-50 2029.0 1005.5)"/>
<g filter="url(#sb)">
<ellipse cx="1883.0" cy="1236.1" rx="3.5" ry="2.6" fill="#F43C08" opacity="0.71" transform="rotate(103 1883.0 1236.1)"/>
<ellipse cx="2138.3" cy="798.5" rx="4.0" ry="3.9" fill="#F43C08" opacity="0.66" transform="rotate(1 2138.3 798.5)"/>
<ellipse cx="2295.4" cy="860.5" rx="5.6" ry="5.3" fill="#F43C08" opacity="0.83" transform="rotate(6 2295.4 860.5)"/>
<ellipse cx="2008.6" cy="984.1" rx="8.0" ry="8.0" fill="#FF8806" opacity="0.5" transform="rotate(104 2007.1 982.1)"/>
<ellipse cx="2007.1" cy="982.1" rx="5.0" ry="5.0" fill="#F43C08" opacity="0.89" transform="rotate(104 2007.1 982.1)"/>
<ellipse cx="1864.6" cy="1170.3" rx="3.4" ry="2.6" fill="#F43C08" opacity="0.75" transform="rotate(15 1864.6 1170.3)"/>
<ellipse cx="1888.5" cy="768.0" rx="7.1" ry="6.2" fill="#FF8806" opacity="0.5" transform="rotate(28 1887.0 766.0)"/>
<ellipse cx="1887.0" cy="766.0" rx="4.1" ry="3.2" fill="#F43C08" opacity="0.77" transform="rotate(28 1887.0 766.0)"/>
<ellipse cx="1981.2" cy="1208.0" rx="7.5" ry="6.5" fill="#FF8806" opacity="0.5" transform="rotate(23 1979.7 1206.0)"/>
<ellipse cx="1979.7" cy="1206.0" rx="4.5" ry="3.5" fill="#F43C08" opacity="0.82" transform="rotate(23 1979.7 1206.0)"/>
<ellipse cx="1824.2" cy="886.9" rx="10.0" ry="9.2" fill="#FF8806" opacity="0.5" transform="rotate(85 1822.7 884.9)"/>
<ellipse cx="1822.7" cy="884.9" rx="7.0" ry="6.2" fill="#F43C08" opacity="0.71" transform="rotate(85 1822.7 884.9)"/>
<ellipse cx="1797.2" cy="1067.4" rx="7.5" ry="6.1" fill="#FF8806" opacity="0.5" transform="rotate(36 1795.7 1065.4)"/>
<ellipse cx="1795.7" cy="1065.4" rx="4.5" ry="3.1" fill="#F43C08" opacity="0.63" transform="rotate(36 1795.7 1065.4)"/>
<ellipse cx="2114.8" cy="924.8" rx="5.8" ry="5.1" fill="#F43C08" opacity="0.61" transform="rotate(127 2114.8 924.8)"/>
<ellipse cx="2029.2" cy="1082.1" rx="9.6" ry="7.9" fill="#FF8806" opacity="0.5" transform="rotate(78 2027.7 1080.1)"/>
<ellipse cx="2027.7" cy="1080.1" rx="6.6" ry="4.9" fill="#F43C08" opacity="0.89" transform="rotate(78 2027.7 1080.1)"/>
<ellipse cx="2072.5" cy="826.9" rx="3.3" ry="2.9" fill="#F43C08" opacity="0.66" transform="rotate(90 2072.5 826.9)"/>
<ellipse cx="2267.1" cy="999.8" rx="3.8" ry="2.6" fill="#F43C08" opacity="0.79" transform="rotate(95 2267.1 999.8)"/>
<ellipse cx="2267.1" cy="1044.8" rx="5.9" ry="3.6" fill="#F43C08" opacity="0.82" transform="rotate(110 2267.1 1044.8)"/>
<ellipse cx="2233.8" cy="900.5" rx="7.4" ry="7.3" fill="#FF8806" opacity="0.5" transform="rotate(177 2232.3 898.5)"/>
<ellipse cx="2232.3" cy="898.5" rx="4.4" ry="4.3" fill="#F43C08" opacity="0.69" transform="rotate(177 2232.3 898.5)"/>
<ellipse cx="2232.3" cy="825.3" rx="9.1" ry="8.0" fill="#FF8806" opacity="0.5" transform="rotate(176 2230.8 823.3)"/>
<ellipse cx="2230.8" cy="823.3" rx="6.1" ry="5.0" fill="#F43C08" opacity="0.88" transform="rotate(176 2230.8 823.3)"/>
<ellipse cx="1814.1" cy="1100.3" rx="5.8" ry="5.5" fill="#F43C08" opacity="0.89" transform="rotate(93 1814.1 1100.3)"/>
<ellipse cx="2269.2" cy="1176.8" rx="5.0" ry="4.6" fill="#F43C08" opacity="0.66" transform="rotate(53 2269.2 1176.8)"/>
<ellipse cx="1867.5" cy="830.9" rx="5.1" ry="3.8" fill="#F43C08" opacity="0.69" transform="rotate(173 1867.5 830.9)"/>
<ellipse cx="2034.2" cy="791.6" rx="6.6" ry="4.7" fill="#F43C08" opacity="0.81" transform="rotate(110 2034.2 791.6)"/>
<ellipse cx="2032.9" cy="1105.9" rx="3.9" ry="3.8" fill="#F43C08" opacity="0.78" transform="rotate(131 2032.9 1105.9)"/>
<ellipse cx="1893.7" cy="763.9" rx="7.4" ry="6.3" fill="#FF8806" opacity="0.5" transform="rotate(77 1892.2 761.9)"/>
<ellipse cx="1892.2" cy="761.9" rx="4.4" ry="3.3" fill="#F43C08" opacity="0.76" transform="rotate(77 1892.2 761.9)"/>
<ellipse cx="1906.0" cy="969.2" rx="7.5" ry="7.2" fill="#FF8806" opacity="0.5" transform="rotate(48 1904.5 967.2)"/>
<ellipse cx="1904.5" cy="967.2" rx="4.5" ry="4.2" fill="#F43C08" opacity="0.82" transform="rotate(48 1904.5 967.2)"/>
<ellipse cx="2208.9" cy="1202.8" rx="6.7" ry="5.6" fill="#FF8806" opacity="0.5" transform="rotate(76 2207.4 1200.8)"/>
<ellipse cx="2207.4" cy="1200.8" rx="3.7" ry="2.6" fill="#F43C08" opacity="0.85" transform="rotate(76 2207.4 1200.8)"/>
<ellipse cx="1973.6" cy="838.9" rx="5.7" ry="4.0" fill="#F43C08" opacity="0.75" transform="rotate(52 1973.6 838.9)"/>
<ellipse cx="2284.0" cy="858.7" rx="9.1" ry="7.3" fill="#FF8806" opacity="0.5" transform="rotate(160 2282.5 856.7)"/>
<ellipse cx="2282.5" cy="856.7" rx="6.1" ry="4.3" fill="#F43C08" opacity="0.71" transform="rotate(160 2282.5 856.7)"/>
<ellipse cx="1922.2" cy="762.6" rx="6.1" ry="6.0" fill="#F43C08" opacity="0.67" transform="rotate(142 1922.2 762.6)"/>
<ellipse cx="1944.5" cy="840.9" rx="4.7" ry="4.4" fill="#F43C08" opacity="0.71" transform="rotate(107 1944.5 840.9)"/>
<ellipse cx="1887.2" cy="962.6" rx="7.8" ry="7.4" fill="#FF8806" opacity="0.5" transform="rotate(143 1885.7 960.6)"/>
<ellipse cx="1885.7" cy="960.6" rx="4.8" ry="4.4" fill="#F43C08" opacity="0.80" transform="rotate(143 1885.7 960.6)"/>
<ellipse cx="1985.1" cy="1049.6" rx="4.2" ry="3.8" fill="#F43C08" opacity="0.84" transform="rotate(179 1985.1 1049.6)"/>
<ellipse cx="1812.8" cy="798.5" rx="3.4" ry="2.2" fill="#F43C08" opacity="0.63" transform="rotate(110 1812.8 798.5)"/>
<ellipse cx="2040.1" cy="935.7" rx="6.2" ry="4.9" fill="#F43C08" opacity="0.88" transform="rotate(156 2040.1 935.7)"/>
<ellipse cx="2031.6" cy="1109.3" rx="6.9" ry="4.4" fill="#F43C08" opacity="0.80" transform="rotate(109 2031.6 1109.3)"/>
<ellipse cx="1795.6" cy="764.5" rx="3.6" ry="2.6" fill="#F43C08" opacity="0.86" transform="rotate(7 1795.6 764.5)"/>
</g>
</g></g>
<text x="2079.0" y="1211.2" font-size="56.5" textLength="183.7" lengthAdjust="spacingAndGlyphs" style="fill:#1c0900">100 µm</text>
<rect x="2198.4" y="1243.2" width="69.7" height="9.5" fill="#0c0100"/>
<g clip-path="url(#cp20)"><g filter="url(#soft)">
<rect x="101.4" y="1268.2" width="548.4" height="508.5999999999999" fill="#CE5000"/>
<g filter="url(#bl)">
<ellipse cx="161.0" cy="1323.9" rx="80.5" ry="49.7" fill="#C85402" opacity="0.5"/>
<ellipse cx="375.6" cy="1547.3" rx="107.3" ry="49.7" fill="#E05404" opacity="0.4"/>
<ellipse cx="187.9" cy="1721.1" rx="64.4" ry="29.8" fill="#C86404" opacity="0.4"/>
</g>
<rect x="101.4" y="1268.2" width="548.4" height="508.5999999999999" filter="url(#ml20)"/>
<rect x="101.4" y="1268.2" width="548.4" height="508.5999999999999" filter="url(#md20)"/>
<rect x="73" y="1238" width="605" height="570" filter="url(#fl20)" transform="rotate(-6 375.6 1522.5)"/>
<rect x="73" y="1238" width="605" height="570" filter="url(#fd20)" transform="rotate(-6 375.6 1522.5)"/>
<rect x="73" y="1238" width="605" height="570" filter="url(#hl20)" transform="rotate(-6 375.6 1522.5)"/>
<rect x="73" y="1238" width="605" height="570" filter="url(#rd20)" opacity="0.7" transform="rotate(-6 375.6 1522.5)"/>
<g filter="url(#sb)">
<ellipse cx="357.3" cy="1461.6" rx="6.4" ry="6.1" fill="#FF7E00" opacity="0.5" transform="rotate(59 355.8 1459.6)"/>
<ellipse cx="355.8" cy="1459.6" rx="3.4" ry="3.1" fill="#F43C06" opacity="0.66" transform="rotate(59 355.8 1459.6)"/>
<ellipse cx="573.7" cy="1279.4" rx="7.5" ry="6.5" fill="#FF7E00" opacity="0.5" transform="rotate(58 572.2 1277.4)"/>
<ellipse cx="572.2" cy="1277.4" rx="4.5" ry="3.5" fill="#F43C06" opacity="0.79" transform="rotate(58 572.2 1277.4)"/>
<ellipse cx="590.7" cy="1316.3" rx="7.7" ry="6.0" fill="#FF7E00" opacity="0.5" transform="rotate(141 589.2 1314.3)"/>
<ellipse cx="589.2" cy="1314.3" rx="4.7" ry="3.0" fill="#F43C06" opacity="0.83" transform="rotate(141 589.2 1314.3)"/>
<ellipse cx="438.2" cy="1294.5" rx="4.1" ry="3.8" fill="#F43C06" opacity="0.67" transform="rotate(90 438.2 1294.5)"/>
<ellipse cx="486.2" cy="1500.7" rx="8.2" ry="7.6" fill="#FF7E00" opacity="0.5" transform="rotate(77 484.7 1498.7)"/>
<ellipse cx="484.7" cy="1498.7" rx="5.2" ry="4.6" fill="#F43C06" opacity="0.89" transform="rotate(77 484.7 1498.7)"/>
<ellipse cx="191.7" cy="1392.4" rx="3.3" ry="2.5" fill="#F43C06" opacity="0.71" transform="rotate(67 191.7 1392.4)"/>
<ellipse cx="379.0" cy="1733.0" rx="4.8" ry="4.1" fill="#F43C06" opacity="0.68" transform="rotate(31 379.0 1733.0)"/>
<ellipse cx="524.2" cy="1466.7" rx="8.2" ry="6.2" fill="#FF7E00" opacity="0.5" transform="rotate(176 522.7 1464.7)"/>
<ellipse cx="522.7" cy="1464.7" rx="5.2" ry="3.2" fill="#F43C06" opacity="0.88" transform="rotate(176 522.7 1464.7)"/>
<ellipse cx="163.4" cy="1420.8" rx="8.0" ry="8.0" fill="#FF7E00" opacity="0.5" transform="rotate(109 161.9 1418.8)"/>
<ellipse cx="161.9" cy="1418.8" rx="5.0" ry="5.0" fill="#F43C06" opacity="0.62" transform="rotate(109 161.9 1418.8)"/>
<ellipse cx="496.7" cy="1483.6" rx="3.3" ry="2.2" fill="#F43C06" opacity="0.89" transform="rotate(70 496.7 1483.6)"/>
<ellipse cx="252.0" cy="1380.4" rx="6.8" ry="5.9" fill="#FF7E00" opacity="0.5" transform="rotate(25 250.5 1378.4)"/>
<ellipse cx="250.5" cy="1378.4" rx="3.8" ry="2.9" fill="#F43C06" opacity="0.64" transform="rotate(25 250.5 1378.4)"/>
<ellipse cx="541.6" cy="1373.3" rx="5.7" ry="3.6" fill="#F43C06" opacity="0.62" transform="rotate(100 541.6 1373.3)"/>
<ellipse cx="579.1" cy="1301.4" rx="4.1" ry="3.2" fill="#F43C06" opacity="0.71" transform="rotate(127 579.1 1301.4)"/>
<ellipse cx="371.2" cy="1285.9" rx="4.3" ry="4.1" fill="#F43C06" opacity="0.83" transform="rotate(30 371.2 1285.9)"/>
<ellipse cx="595.1" cy="1331.8" rx="7.8" ry="7.6" fill="#FF7E00" opacity="0.5" transform="rotate(89 593.6 1329.8)"/>
<ellipse cx="593.6" cy="1329.8" rx="4.8" ry="4.6" fill="#F43C06" opacity="0.61" transform="rotate(89 593.6 1329.8)"/>
<ellipse cx="172.4" cy="1561.6" rx="5.7" ry="4.6" fill="#F43C06" opacity="0.63" transform="rotate(31 172.4 1561.6)"/>
<ellipse cx="217.8" cy="1280.3" rx="6.3" ry="6.0" fill="#FF7E00" opacity="0.5" transform="rotate(40 216.3 1278.3)"/>
<ellipse cx="216.3" cy="1278.3" rx="3.3" ry="3.0" fill="#F43C06" opacity="0.65" transform="rotate(40 216.3 1278.3)"/>
<ellipse cx="398.4" cy="1284.9" rx="6.3" ry="5.5" fill="#FF7E00" opacity="0.5" transform="rotate(101 396.9 1282.9)"/>
<ellipse cx="396.9" cy="1282.9" rx="3.3" ry="2.5" fill="#F43C06" opacity="0.65" transform="rotate(101 396.9 1282.9)"/>
<ellipse cx="375.4" cy="1733.5" rx="7.3" ry="6.4" fill="#FF7E00" opacity="0.5" transform="rotate(170 373.9 1731.5)"/>
<ellipse cx="373.9" cy="1731.5" rx="4.3" ry="3.4" fill="#F43C06" opacity="0.88" transform="rotate(170 373.9 1731.5)"/>
<ellipse cx="321.0" cy="1591.4" rx="3.3" ry="2.0" fill="#F43C06" opacity="0.76" transform="rotate(179 321.0 1591.4)"/>
<ellipse cx="418.4" cy="1359.9" rx="4.8" ry="3.9" fill="#F43C06" opacity="0.62" transform="rotate(97 418.4 1359.9)"/>
<ellipse cx="622.9" cy="1303.1" rx="7.7" ry="7.0" fill="#FF7E00" opacity="0.5" transform="rotate(98 621.4 1301.1)"/>
<ellipse cx="621.4" cy="1301.1" rx="4.7" ry="4.0" fill="#F43C06" opacity="0.82" transform="rotate(98 621.4 1301.1)"/>
<ellipse cx="432.7" cy="1348.3" rx="3.8" ry="3.4" fill="#F43C06" opacity="0.74" transform="rotate(19 432.7 1348.3)"/>
<ellipse cx="642.6" cy="1771.8" rx="6.4" ry="5.7" fill="#FF7E00" opacity="0.5" transform="rotate(115 641.1 1769.8)"/>
<ellipse cx="641.1" cy="1769.8" rx="3.4" ry="2.7" fill="#F43C06" opacity="0.78" transform="rotate(115 641.1 1769.8)"/>
<ellipse cx="487.3" cy="1748.4" rx="6.7" ry="5.8" fill="#FF7E00" opacity="0.5" transform="rotate(158 485.8 1746.4)"/>
<ellipse cx="485.8" cy="1746.4" rx="3.7" ry="2.8" fill="#F43C06" opacity="0.85" transform="rotate(158 485.8 1746.4)"/>
<ellipse cx="435.2" cy="1295.6" rx="4.1" ry="3.7" fill="#F43C06" opacity="0.61" transform="rotate(112 435.2 1295.6)"/>
<ellipse cx="469.0" cy="1567.3" rx="5.3" ry="4.5" fill="#F43C06" opacity="0.72" transform="rotate(110 469.0 1567.3)"/>
<ellipse cx="153.9" cy="1446.6" rx="5.6" ry="3.5" fill="#F43C06" opacity="0.65" transform="rotate(34 153.9 1446.6)"/>
<ellipse cx="422.2" cy="1500.3" rx="7.2" ry="5.6" fill="#FF7E00" opacity="0.5" transform="rotate(64 420.7 1498.3)"/>
<ellipse cx="420.7" cy="1498.3" rx="4.2" ry="2.6" fill="#F43C06" opacity="0.76" transform="rotate(64 420.7 1498.3)"/>
<ellipse cx="637.8" cy="1561.5" rx="6.1" ry="4.9" fill="#FF7E00" opacity="0.5" transform="rotate(140 636.3 1559.5)"/>
<ellipse cx="636.3" cy="1559.5" rx="3.1" ry="1.9" fill="#F43C06" opacity="0.83" transform="rotate(140 636.3 1559.5)"/>
</g>
</g></g>
<text x="427.5" y="1728.2" font-size="56.5" textLength="183.7" lengthAdjust="spacingAndGlyphs" style="fill:#1c0900">100 µm</text>
<rect x="541.9" y="1755.1" width="71.2" height="9.9" fill="#0c0100"/>
<g clip-path="url(#cp21)"><g filter="url(#soft)">
<rect x="652.2" y="1268.2" width="548.0999999999999" height="508.5999999999999" fill="#CC4E00"/>
<g filter="url(#bl)">
<ellipse cx="711.8" cy="1313.9" rx="107.2" ry="49.7" fill="#BE5402" opacity="0.6"/>
<ellipse cx="979.9" cy="1522.5" rx="134.0" ry="59.6" fill="#DE5204" opacity="0.4"/>
<ellipse cx="738.6" cy="1621.8" rx="53.6" ry="59.6" fill="#C45C02" opacity="0.4"/>
</g>
<rect x="652.2" y="1268.2" width="548.0999999999999" height="508.5999999999999" filter="url(#ml21)"/>
<rect x="652.2" y="1268.2" width="548.0999999999999" height="508.5999999999999" filter="url(#md21)"/>
<rect x="579" y="1187" width="694" height="670" filter="url(#fl21)" transform="rotate(-20 926.2 1522.5)"/>
<rect x="579" y="1187" width="694" height="670" filter="url(#fd21)" transform="rotate(-20 926.2 1522.5)"/>
<rect x="579" y="1187" width="694" height="670" filter="url(#hl21)" transform="rotate(-20 926.2 1522.5)"/>
<rect x="579" y="1187" width="694" height="670" filter="url(#rd21)" opacity="0.7" transform="rotate(-20 926.2 1522.5)"/>
<g filter="url(#sb)">
<ellipse cx="966.0" cy="1489.2" rx="7.7" ry="6.8" fill="#FF7E00" opacity="0.5" transform="rotate(83 964.5 1487.2)"/>
<ellipse cx="964.5" cy="1487.2" rx="4.7" ry="3.8" fill="#F23A06" opacity="0.73" transform="rotate(83 964.5 1487.2)"/>
<ellipse cx="770.2" cy="1680.1" rx="8.5" ry="7.6" fill="#FF7E00" opacity="0.5" transform="rotate(97 768.7 1678.1)"/>
<ellipse cx="768.7" cy="1678.1" rx="5.5" ry="4.6" fill="#F23A06" opacity="0.65" transform="rotate(97 768.7 1678.1)"/>
<ellipse cx="1010.0" cy="1355.8" rx="7.6" ry="6.5" fill="#FF7E00" opacity="0.5" transform="rotate(174 1008.5 1353.8)"/>
<ellipse cx="1008.5" cy="1353.8" rx="4.6" ry="3.5" fill="#F23A06" opacity="0.61" transform="rotate(174 1008.5 1353.8)"/>
<ellipse cx="835.4" cy="1400.3" rx="8.9" ry="6.5" fill="#FF7E00" opacity="0.5" transform="rotate(96 833.9 1398.3)"/>
<ellipse cx="833.9" cy="1398.3" rx="5.9" ry="3.5" fill="#F23A06" opacity="0.63" transform="rotate(96 833.9 1398.3)"/>
<ellipse cx="1192.5" cy="1296.3" rx="5.6" ry="3.6" fill="#F23A06" opacity="0.75" transform="rotate(82 1192.5 1296.3)"/>
<ellipse cx="983.1" cy="1465.7" rx="6.9" ry="6.0" fill="#FF7E00" opacity="0.5" transform="rotate(79 981.6 1463.7)"/>
<ellipse cx="981.6" cy="1463.7" rx="3.9" ry="3.0" fill="#F23A06" opacity="0.73" transform="rotate(79 981.6 1463.7)"/>
<ellipse cx="1020.0" cy="1501.1" rx="5.1" ry="4.5" fill="#F23A06" opacity="0.73" transform="rotate(162 1020.0 1501.1)"/>
<ellipse cx="1014.5" cy="1342.2" rx="8.3" ry="7.6" fill="#FF7E00" opacity="0.5" transform="rotate(164 1013.0 1340.2)"/>
<ellipse cx="1013.0" cy="1340.2" rx="5.3" ry="4.6" fill="#F23A06" opacity="0.67" transform="rotate(164 1013.0 1340.2)"/>
<ellipse cx="1184.9" cy="1755.6" rx="4.8" ry="4.1" fill="#F23A06" opacity="0.78" transform="rotate(124 1184.9 1755.6)"/>
<ellipse cx="681.9" cy="1276.2" rx="3.4" ry="3.2" fill="#F23A06" opacity="0.89" transform="rotate(86 681.9 1276.2)"/>
<ellipse cx="1162.7" cy="1424.6" rx="4.1" ry="3.2" fill="#F23A06" opacity="0.87" transform="rotate(155 1162.7 1424.6)"/>
<ellipse cx="1139.7" cy="1430.3" rx="4.6" ry="2.9" fill="#F23A06" opacity="0.89" transform="rotate(164 1139.7 1430.3)"/>
<ellipse cx="892.0" cy="1306.5" rx="4.8" ry="4.7" fill="#F23A06" opacity="0.64" transform="rotate(51 892.0 1306.5)"/>
<ellipse cx="1112.2" cy="1353.9" rx="6.7" ry="6.1" fill="#FF7E00" opacity="0.5" transform="rotate(166 1110.7 1351.9)"/>
<ellipse cx="1110.7" cy="1351.9" rx="3.7" ry="3.1" fill="#F23A06" opacity="0.70" transform="rotate(166 1110.7 1351.9)"/>
<ellipse cx="881.0" cy="1294.5" rx="7.5" ry="5.8" fill="#FF7E00" opacity="0.5" transform="rotate(35 879.5 1292.5)"/>
<ellipse cx="879.5" cy="1292.5" rx="4.5" ry="2.8" fill="#F23A06" opacity="0.63" transform="rotate(35 879.5 1292.5)"/>
<ellipse cx="1098.2" cy="1602.9" rx="7.6" ry="7.6" fill="#FF7E00" opacity="0.5" transform="rotate(160 1096.7 1600.9)"/>
<ellipse cx="1096.7" cy="1600.9" rx="4.6" ry="4.6" fill="#F23A06" opacity="0.82" transform="rotate(160 1096.7 1600.9)"/>
<ellipse cx="1118.1" cy="1350.5" rx="7.7" ry="7.1" fill="#FF7E00" opacity="0.5" transform="rotate(94 1116.6 1348.5)"/>
<ellipse cx="1116.6" cy="1348.5" rx="4.7" ry="4.1" fill="#F23A06" opacity="0.80" transform="rotate(94 1116.6 1348.5)"/>
<ellipse cx="860.3" cy="1574.8" rx="6.3" ry="5.7" fill="#FF7E00" opacity="0.5" transform="rotate(48 858.8 1572.8)"/>
<ellipse cx="858.8" cy="1572.8" rx="3.3" ry="2.7" fill="#F23A06" opacity="0.79" transform="rotate(48 858.8 1572.8)"/>
<ellipse cx="1074.0" cy="1322.2" rx="3.5" ry="3.0" fill="#F23A06" opacity="0.86" transform="rotate(38 1074.0 1322.2)"/>
<ellipse cx="1092.6" cy="1746.8" rx="7.3" ry="7.1" fill="#FF7E00" opacity="0.5" transform="rotate(117 1091.1 1744.8)"/>
<ellipse cx="1091.1" cy="1744.8" rx="4.3" ry="4.1" fill="#F23A06" opacity="0.73" transform="rotate(117 1091.1 1744.8)"/>
<ellipse cx="881.7" cy="1398.1" rx="6.8" ry="5.4" fill="#FF7E00" opacity="0.5" transform="rotate(10 880.2 1396.1)"/>
<ellipse cx="880.2" cy="1396.1" rx="3.8" ry="2.4" fill="#F23A06" opacity="0.74" transform="rotate(10 880.2 1396.1)"/>
<ellipse cx="990.6" cy="1364.8" rx="6.4" ry="6.0" fill="#FF7E00" opacity="0.5" transform="rotate(113 989.1 1362.8)"/>
<ellipse cx="989.1" cy="1362.8" rx="3.4" ry="3.0" fill="#F23A06" opacity="0.81" transform="rotate(113 989.1 1362.8)"/>
<ellipse cx="904.0" cy="1358.1" rx="7.9" ry="7.0" fill="#FF7E00" opacity="0.5" transform="rotate(91 902.5 1356.1)"/>
<ellipse cx="902.5" cy="1356.1" rx="4.9" ry="4.0" fill="#F23A06" opacity="0.73" transform="rotate(91 902.5 1356.1)"/>
<ellipse cx="1099.9" cy="1662.3" rx="7.4" ry="6.3" fill="#FF7E00" opacity="0.5" transform="rotate(131 1098.4 1660.3)"/>
<ellipse cx="1098.4" cy="1660.3" rx="4.4" ry="3.3" fill="#F23A06" opacity="0.73" transform="rotate(131 1098.4 1660.3)"/>
<ellipse cx="844.5" cy="1490.1" rx="3.0" ry="2.4" fill="#F23A06" opacity="0.82" transform="rotate(86 844.5 1490.1)"/>
<ellipse cx="1040.2" cy="1438.9" rx="4.0" ry="3.6" fill="#F23A06" opacity="0.89" transform="rotate(73 1040.2 1438.9)"/>
<ellipse cx="702.5" cy="1498.7" rx="7.7" ry="7.7" fill="#FF7E00" opacity="0.5" transform="rotate(130 701.0 1496.7)"/>
<ellipse cx="701.0" cy="1496.7" rx="4.7" ry="4.7" fill="#F23A06" opacity="0.85" transform="rotate(130 701.0 1496.7)"/>
<ellipse cx="869.1" cy="1708.0" rx="8.0" ry="7.7" fill="#FF7E00" opacity="0.5" transform="rotate(3 867.6 1706.0)"/>
<ellipse cx="867.6" cy="1706.0" rx="5.0" ry="4.7" fill="#F23A06" opacity="0.70" transform="rotate(3 867.6 1706.0)"/>
<ellipse cx="789.1" cy="1537.1" rx="8.7" ry="8.1" fill="#FF7E00" opacity="0.5" transform="rotate(110 787.6 1535.1)"/>
<ellipse cx="787.6" cy="1535.1" rx="5.7" ry="5.1" fill="#F23A06" opacity="0.66" transform="rotate(110 787.6 1535.1)"/>
<ellipse cx="937.0" cy="1573.2" rx="3.2" ry="2.1" fill="#F23A06" opacity="0.88" transform="rotate(17 937.0 1573.2)"/>
</g>
</g></g>
<text x="977.5" y="1726.7" font-size="56.5" textLength="182.2" lengthAdjust="spacingAndGlyphs" style="fill:#1c0900">100 µm</text>
<rect x="1092.3" y="1754.4" width="70.8" height="9.9" fill="#0c0100"/>
<g clip-path="url(#cp22)"><g filter="url(#soft)">
<rect x="1207" y="1268.2" width="548.5999999999999" height="508.5999999999999" fill="#C45C00"/>
<g filter="url(#bl)">
<ellipse cx="1561.8" cy="1333.8" rx="107.3" ry="49.7" fill="#C47008" opacity="0.7"/>
<ellipse cx="1320.3" cy="1522.5" rx="64.4" ry="74.5" fill="#C06C06" opacity="0.6"/>
<ellipse cx="1588.6" cy="1547.3" rx="53.7" ry="59.6" fill="#BE6A06" opacity="0.6"/>
<ellipse cx="1239.8" cy="1746.0" rx="53.7" ry="29.8" fill="#D87E0C" opacity="0.6"/>
<ellipse cx="1481.3" cy="1696.3" rx="161.0" ry="49.7" fill="#D06404" opacity="0.4"/>
</g>
<rect x="1207" y="1268.2" width="548.5999999999999" height="508.5999999999999" filter="url(#ml22)"/>
<rect x="1207" y="1268.2" width="548.5999999999999" height="508.5999999999999" filter="url(#md22)"/>
<rect x="1122" y="1156" width="718" height="733" filter="url(#fl22)" transform="rotate(60 1481.3 1522.5)"/>
<rect x="1122" y="1156" width="718" height="733" filter="url(#fd22)" transform="rotate(60 1481.3 1522.5)"/>
<rect x="1122" y="1156" width="718" height="733" filter="url(#hl22)" transform="rotate(60 1481.3 1522.5)"/>
<rect x="1207" y="1268.2" width="548.5999999999999" height="508.5999999999999" filter="url(#cd22)" opacity="0.5"/>
<rect x="1207" y="1268.2" width="548.5999999999999" height="508.5999999999999" filter="url(#ce22)" opacity="0.7"/>
<rect x="1122" y="1156" width="718" height="733" filter="url(#rd22)" opacity="0.7" transform="rotate(60 1481.3 1522.5)"/>
<g filter="url(#sb)">
<ellipse cx="1713.5" cy="1340.8" rx="16.0" ry="10.9" fill="#FF980E" opacity="0.5" transform="rotate(48 1712.0 1338.8)"/>
<ellipse cx="1712.0" cy="1338.8" rx="13.0" ry="7.9" fill="#F0480A" opacity="0.62" transform="rotate(48 1712.0 1338.8)"/>
<ellipse cx="1457.2" cy="1554.2" rx="11.6" ry="8.8" fill="#FF980E" opacity="0.5" transform="rotate(66 1455.7 1552.2)"/>
<ellipse cx="1455.7" cy="1552.2" rx="8.6" ry="5.8" fill="#F0480A" opacity="0.64" transform="rotate(66 1455.7 1552.2)"/>
<ellipse cx="1462.9" cy="1526.4" rx="6.9" ry="5.2" fill="#F0480A" opacity="0.80" transform="rotate(160 1462.9 1526.4)"/>
<ellipse cx="1313.6" cy="1530.4" rx="10.1" ry="9.3" fill="#FF980E" opacity="0.5" transform="rotate(105 1312.1 1528.4)"/>
<ellipse cx="1312.1" cy="1528.4" rx="7.1" ry="6.3" fill="#F0480A" opacity="0.61" transform="rotate(105 1312.1 1528.4)"/>
<ellipse cx="1638.5" cy="1320.9" rx="5.5" ry="3.3" fill="#F0480A" opacity="0.89" transform="rotate(164 1638.5 1320.9)"/>
<ellipse cx="1263.2" cy="1678.3" rx="10.5" ry="7.5" fill="#FF980E" opacity="0.5" transform="rotate(115 1261.7 1676.3)"/>
<ellipse cx="1261.7" cy="1676.3" rx="7.5" ry="4.5" fill="#F0480A" opacity="0.82" transform="rotate(115 1261.7 1676.3)"/>
<ellipse cx="1237.0" cy="1764.0" rx="11.8" ry="9.4" fill="#FF980E" opacity="0.5" transform="rotate(180 1235.5 1762.0)"/>
<ellipse cx="1235.5" cy="1762.0" rx="8.8" ry="6.4" fill="#F0480A" opacity="0.76" transform="rotate(180 1235.5 1762.0)"/>
<ellipse cx="1563.9" cy="1579.9" rx="4.8" ry="4.3" fill="#F0480A" opacity="0.81" transform="rotate(162 1563.9 1579.9)"/>
<ellipse cx="1222.5" cy="1538.6" rx="7.3" ry="6.9" fill="#FF980E" opacity="0.5" transform="rotate(165 1221.0 1536.6)"/>
<ellipse cx="1221.0" cy="1536.6" rx="4.3" ry="3.9" fill="#F0480A" opacity="0.81" transform="rotate(165 1221.0 1536.6)"/>
<ellipse cx="1316.6" cy="1396.3" rx="7.2" ry="7.0" fill="#FF980E" opacity="0.5" transform="rotate(157 1315.1 1394.3)"/>
<ellipse cx="1315.1" cy="1394.3" rx="4.2" ry="4.0" fill="#F0480A" opacity="0.84" transform="rotate(157 1315.1 1394.3)"/>
<ellipse cx="1461.9" cy="1493.0" rx="8.2" ry="7.8" fill="#F0480A" opacity="0.71" transform="rotate(103 1461.9 1493.0)"/>
<ellipse cx="1493.1" cy="1594.2" rx="9.5" ry="8.4" fill="#FF980E" opacity="0.5" transform="rotate(110 1491.6 1592.2)"/>
<ellipse cx="1491.6" cy="1592.2" rx="6.5" ry="5.4" fill="#F0480A" opacity="0.79" transform="rotate(110 1491.6 1592.2)"/>
<ellipse cx="1568.5" cy="1501.3" rx="5.4" ry="5.4" fill="#F0480A" opacity="0.72" transform="rotate(158 1568.5 1501.3)"/>
<ellipse cx="1749.8" cy="1770.7" rx="11.2" ry="10.3" fill="#FF980E" opacity="0.5" transform="rotate(105 1748.3 1768.7)"/>
<ellipse cx="1748.3" cy="1768.7" rx="8.2" ry="7.3" fill="#F0480A" opacity="0.85" transform="rotate(105 1748.3 1768.7)"/>
<ellipse cx="1594.3" cy="1432.8" rx="8.1" ry="6.3" fill="#FF980E" opacity="0.5" transform="rotate(135 1592.8 1430.8)"/>
<ellipse cx="1592.8" cy="1430.8" rx="5.1" ry="3.3" fill="#F0480A" opacity="0.78" transform="rotate(135 1592.8 1430.8)"/>
<ellipse cx="1368.1" cy="1309.1" rx="7.8" ry="6.2" fill="#F0480A" opacity="0.75" transform="rotate(41 1368.1 1309.1)"/>
<ellipse cx="1429.4" cy="1696.6" rx="8.9" ry="8.0" fill="#FF980E" opacity="0.5" transform="rotate(166 1427.9 1694.6)"/>
<ellipse cx="1427.9" cy="1694.6" rx="5.9" ry="5.0" fill="#F0480A" opacity="0.60" transform="rotate(166 1427.9 1694.6)"/>
<ellipse cx="1728.6" cy="1697.0" rx="7.0" ry="5.9" fill="#FF980E" opacity="0.5" transform="rotate(122 1727.1 1695.0)"/>
<ellipse cx="1727.1" cy="1695.0" rx="4.0" ry="2.9" fill="#F0480A" opacity="0.65" transform="rotate(122 1727.1 1695.0)"/>
<ellipse cx="1327.0" cy="1728.2" rx="9.3" ry="9.1" fill="#FF980E" opacity="0.5" transform="rotate(119 1325.5 1726.2)"/>
<ellipse cx="1325.5" cy="1726.2" rx="6.3" ry="6.1" fill="#F0480A" opacity="0.87" transform="rotate(119 1325.5 1726.2)"/>
<ellipse cx="1740.6" cy="1473.6" rx="7.4" ry="6.2" fill="#FF980E" opacity="0.5" transform="rotate(120 1739.1 1471.6)"/>
<ellipse cx="1739.1" cy="1471.6" rx="4.4" ry="3.2" fill="#F0480A" opacity="0.73" transform="rotate(120 1739.1 1471.6)"/>
<ellipse cx="1550.8" cy="1660.8" rx="5.3" ry="4.9" fill="#F0480A" opacity="0.72" transform="rotate(165 1550.8 1660.8)"/>
<ellipse cx="1261.3" cy="1441.4" rx="11.8" ry="10.3" fill="#FF980E" opacity="0.5" transform="rotate(57 1259.8 1439.4)"/>
<ellipse cx="1259.8" cy="1439.4" rx="8.8" ry="7.3" fill="#F0480A" opacity="0.75" transform="rotate(57 1259.8 1439.4)"/>
<ellipse cx="1619.8" cy="1332.8" rx="5.2" ry="4.9" fill="#F0480A" opacity="0.89" transform="rotate(153 1619.8 1332.8)"/>
<ellipse cx="1268.7" cy="1305.9" rx="11.0" ry="8.7" fill="#FF980E" opacity="0.5" transform="rotate(30 1267.2 1303.9)"/>
<ellipse cx="1267.2" cy="1303.9" rx="8.0" ry="5.7" fill="#F0480A" opacity="0.68" transform="rotate(30 1267.2 1303.9)"/>
<ellipse cx="1308.3" cy="1551.9" rx="6.2" ry="4.3" fill="#F0480A" opacity="0.75" transform="rotate(75 1308.3 1551.9)"/>
<ellipse cx="1315.3" cy="1637.7" rx="4.7" ry="3.4" fill="#F0480A" opacity="0.74" transform="rotate(151 1315.3 1637.7)"/>
<ellipse cx="1558.4" cy="1332.1" rx="6.1" ry="3.8" fill="#F0480A" opacity="0.61" transform="rotate(6 1558.4 1332.1)"/>
<ellipse cx="1328.7" cy="1410.2" rx="11.9" ry="10.8" fill="#FF980E" opacity="0.5" transform="rotate(103 1327.2 1408.2)"/>
<ellipse cx="1327.2" cy="1408.2" rx="8.9" ry="7.8" fill="#F0480A" opacity="0.84" transform="rotate(103 1327.2 1408.2)"/>
<ellipse cx="1645.6" cy="1427.2" rx="11.4" ry="8.1" fill="#FF980E" opacity="0.5" transform="rotate(24 1644.1 1425.2)"/>
<ellipse cx="1644.1" cy="1425.2" rx="8.4" ry="5.1" fill="#F0480A" opacity="0.61" transform="rotate(24 1644.1 1425.2)"/>
<ellipse cx="1327.6" cy="1472.0" rx="11.3" ry="10.7" fill="#FF980E" opacity="0.5" transform="rotate(43 1326.1 1470.0)"/>
<ellipse cx="1326.1" cy="1470.0" rx="8.3" ry="7.7" fill="#F0480A" opacity="0.61" transform="rotate(43 1326.1 1470.0)"/>
<ellipse cx="1557.4" cy="1324.0" rx="8.9" ry="7.6" fill="#F0480A" opacity="0.80" transform="rotate(80 1557.4 1324.0)"/>
<ellipse cx="1327.4" cy="1402.5" rx="7.9" ry="7.3" fill="#F0480A" opacity="0.66" transform="rotate(173 1327.4 1402.5)"/>
<ellipse cx="1391.0" cy="1423.4" rx="7.4" ry="6.5" fill="#FF980E" opacity="0.5" transform="rotate(32 1389.5 1421.4)"/>
<ellipse cx="1389.5" cy="1421.4" rx="4.4" ry="3.5" fill="#F0480A" opacity="0.74" transform="rotate(32 1389.5 1421.4)"/>
<ellipse cx="1262.9" cy="1565.6" rx="8.2" ry="7.6" fill="#FF980E" opacity="0.5" transform="rotate(32 1261.4 1563.6)"/>
<ellipse cx="1261.4" cy="1563.6" rx="5.2" ry="4.6" fill="#F0480A" opacity="0.70" transform="rotate(32 1261.4 1563.6)"/>
<ellipse cx="1535.6" cy="1458.8" rx="6.3" ry="5.5" fill="#F0480A" opacity="0.83" transform="rotate(94 1535.6 1458.8)"/>
<ellipse cx="1727.7" cy="1514.4" rx="6.9" ry="5.2" fill="#F0480A" opacity="0.63" transform="rotate(143 1727.7 1514.4)"/>
<ellipse cx="1679.5" cy="1367.0" rx="7.8" ry="7.6" fill="#FF980E" opacity="0.5" transform="rotate(130 1678.0 1365.0)"/>
<ellipse cx="1678.0" cy="1365.0" rx="4.8" ry="4.6" fill="#F0480A" opacity="0.74" transform="rotate(130 1678.0 1365.0)"/>
<ellipse cx="1702.0" cy="1682.3" rx="8.2" ry="7.5" fill="#FF980E" opacity="0.5" transform="rotate(164 1700.5 1680.3)"/>
<ellipse cx="1700.5" cy="1680.3" rx="5.2" ry="4.5" fill="#F0480A" opacity="0.77" transform="rotate(164 1700.5 1680.3)"/>
<ellipse cx="1314.8" cy="1641.4" rx="8.7" ry="8.3" fill="#F0480A" opacity="0.74" transform="rotate(143 1314.8 1641.4)"/>
<ellipse cx="1318.5" cy="1746.0" rx="8.4" ry="7.2" fill="#F0480A" opacity="0.85" transform="rotate(37 1318.5 1746.0)"/>
<ellipse cx="1538.4" cy="1485.5" rx="7.5" ry="6.9" fill="#FF980E" opacity="0.5" transform="rotate(129 1536.9 1483.5)"/>
<ellipse cx="1536.9" cy="1483.5" rx="4.5" ry="3.9" fill="#F0480A" opacity="0.87" transform="rotate(129 1536.9 1483.5)"/>
<ellipse cx="1235.3" cy="1754.3" rx="8.2" ry="8.2" fill="#FF980E" opacity="0.5" transform="rotate(176 1233.8 1752.3)"/>
<ellipse cx="1233.8" cy="1752.3" rx="5.2" ry="5.2" fill="#F0480A" opacity="0.84" transform="rotate(176 1233.8 1752.3)"/>
<ellipse cx="1591.1" cy="1401.8" rx="8.1" ry="5.9" fill="#F0480A" opacity="0.70" transform="rotate(164 1591.1 1401.8)"/>
<ellipse cx="1534.6" cy="1421.9" rx="7.9" ry="6.1" fill="#FF980E" opacity="0.5" transform="rotate(79 1533.1 1419.9)"/>
<ellipse cx="1533.1" cy="1419.9" rx="4.9" ry="3.1" fill="#F0480A" opacity="0.83" transform="rotate(79 1533.1 1419.9)"/>
<ellipse cx="1599.5" cy="1308.4" rx="5.1" ry="4.1" fill="#F0480A" opacity="0.62" transform="rotate(5 1599.5 1308.4)"/>
<ellipse cx="1514.7" cy="1699.5" rx="10.1" ry="9.5" fill="#FF980E" opacity="0.5" transform="rotate(31 1513.2 1697.5)"/>
<ellipse cx="1513.2" cy="1697.5" rx="7.1" ry="6.5" fill="#F0480A" opacity="0.84" transform="rotate(31 1513.2 1697.5)"/>
<ellipse cx="1364.9" cy="1731.8" rx="8.0" ry="6.3" fill="#FF980E" opacity="0.5" transform="rotate(27 1363.4 1729.8)"/>
<ellipse cx="1363.4" cy="1729.8" rx="5.0" ry="3.3" fill="#F0480A" opacity="0.82" transform="rotate(27 1363.4 1729.8)"/>
</g>
</g></g>
<text x="1533.0" y="1727.7" font-size="56.5" textLength="184.2" lengthAdjust="spacingAndGlyphs" style="fill:#1c0900">100 µm</text>
<rect x="1647.6" y="1754.1" width="70.3" height="9.7" fill="#0c0100"/>
<g clip-path="url(#cp23)"><g filter="url(#soft)">
<rect x="1756" y="1268.2" width="545.9000000000001" height="510.1999999999998" fill="#D85200"/>
<g filter="url(#bl)">
<ellipse cx="1842.1" cy="1647.8" rx="80.1" ry="99.6" fill="#D45002" opacity="0.5"/>
<ellipse cx="2162.4" cy="1373.8" rx="80.1" ry="59.8" fill="#E86006" opacity="0.4"/>
</g>
<rect x="1756" y="1268.2" width="545.9000000000001" height="510.1999999999998" filter="url(#ml23)"/>
<rect x="1756" y="1268.2" width="545.9000000000001" height="510.1999999999998" filter="url(#md23)"/>
<rect x="1666" y="1155" width="725" height="737" filter="url(#fl23)" transform="rotate(-58 2029.0 1523.3)"/>
<rect x="1666" y="1155" width="725" height="737" filter="url(#fd23)" transform="rotate(-58 2029.0 1523.3)"/>
<rect x="1666" y="1155" width="725" height="737" filter="url(#hl23)" transform="rotate(-58 2029.0 1523.3)"/>
<rect x="1666" y="1155" width="725" height="737" filter="url(#rd23)" opacity="0.7" transform="rotate(-58 2029.0 1523.3)"/>
<g filter="url(#sb)">
<ellipse cx="2015.4" cy="1601.8" rx="5.0" ry="3.6" fill="#F43C08" opacity="0.79" transform="rotate(142 2015.4 1601.8)"/>
<ellipse cx="1839.6" cy="1281.6" rx="7.1" ry="5.9" fill="#FF8806" opacity="0.5" transform="rotate(95 1838.1 1279.6)"/>
<ellipse cx="1838.1" cy="1279.6" rx="4.1" ry="2.9" fill="#F43C08" opacity="0.79" transform="rotate(95 1838.1 1279.6)"/>
<ellipse cx="1908.3" cy="1677.9" rx="5.1" ry="3.6" fill="#F43C08" opacity="0.65" transform="rotate(170 1908.3 1677.9)"/>
<ellipse cx="2084.6" cy="1554.3" rx="8.0" ry="6.6" fill="#FF8806" opacity="0.5" transform="rotate(157 2083.1 1552.3)"/>
<ellipse cx="2083.1" cy="1552.3" rx="5.0" ry="3.6" fill="#F43C08" opacity="0.88" transform="rotate(157 2083.1 1552.3)"/>
<ellipse cx="1839.6" cy="1493.4" rx="3.5" ry="2.8" fill="#F43C08" opacity="0.66" transform="rotate(125 1839.6 1493.4)"/>
<ellipse cx="2245.7" cy="1303.5" rx="5.5" ry="3.9" fill="#F43C08" opacity="0.81" transform="rotate(46 2245.7 1303.5)"/>
<ellipse cx="1803.3" cy="1618.4" rx="7.0" ry="5.6" fill="#FF8806" opacity="0.5" transform="rotate(160 1801.8 1616.4)"/>
<ellipse cx="1801.8" cy="1616.4" rx="4.0" ry="2.6" fill="#F43C08" opacity="0.67" transform="rotate(160 1801.8 1616.4)"/>
<ellipse cx="1979.5" cy="1695.9" rx="6.1" ry="5.4" fill="#FF8806" opacity="0.5" transform="rotate(176 1978.0 1693.9)"/>
<ellipse cx="1978.0" cy="1693.9" rx="3.1" ry="2.4" fill="#F43C08" opacity="0.79" transform="rotate(176 1978.0 1693.9)"/>
<ellipse cx="1794.5" cy="1730.1" rx="4.5" ry="4.4" fill="#F43C08" opacity="0.73" transform="rotate(173 1794.5 1730.1)"/>
<ellipse cx="1810.6" cy="1766.0" rx="5.8" ry="4.9" fill="#F43C08" opacity="0.77" transform="rotate(162 1810.6 1766.0)"/>
<ellipse cx="1822.1" cy="1485.0" rx="3.4" ry="2.5" fill="#F43C08" opacity="0.77" transform="rotate(66 1822.1 1485.0)"/>
<ellipse cx="1928.9" cy="1583.8" rx="3.5" ry="2.1" fill="#F43C08" opacity="0.84" transform="rotate(128 1928.9 1583.8)"/>
<ellipse cx="2135.5" cy="1301.8" rx="6.5" ry="6.4" fill="#FF8806" opacity="0.5" transform="rotate(164 2134.0 1299.8)"/>
<ellipse cx="2134.0" cy="1299.8" rx="3.5" ry="3.4" fill="#F43C08" opacity="0.84" transform="rotate(164 2134.0 1299.8)"/>
<ellipse cx="2199.0" cy="1475.7" rx="7.3" ry="6.2" fill="#FF8806" opacity="0.5" transform="rotate(18 2197.5 1473.7)"/>
<ellipse cx="2197.5" cy="1473.7" rx="4.3" ry="3.2" fill="#F43C08" opacity="0.69" transform="rotate(18 2197.5 1473.7)"/>
<ellipse cx="2081.7" cy="1513.7" rx="7.2" ry="7.0" fill="#FF8806" opacity="0.5" transform="rotate(124 2080.2 1511.7)"/>
<ellipse cx="2080.2" cy="1511.7" rx="4.2" ry="4.0" fill="#F43C08" opacity="0.79" transform="rotate(124 2080.2 1511.7)"/>
<ellipse cx="1778.3" cy="1636.1" rx="5.9" ry="3.8" fill="#F43C08" opacity="0.72" transform="rotate(96 1778.3 1636.1)"/>
<ellipse cx="2284.7" cy="1606.8" rx="7.1" ry="5.8" fill="#FF8806" opacity="0.5" transform="rotate(73 2283.2 1604.8)"/>
<ellipse cx="2283.2" cy="1604.8" rx="4.1" ry="2.8" fill="#F43C08" opacity="0.81" transform="rotate(73 2283.2 1604.8)"/>
<ellipse cx="1957.4" cy="1620.0" rx="8.0" ry="6.3" fill="#FF8806" opacity="0.5" transform="rotate(16 1955.9 1618.0)"/>
<ellipse cx="1955.9" cy="1618.0" rx="5.0" ry="3.3" fill="#F43C08" opacity="0.81" transform="rotate(16 1955.9 1618.0)"/>
<ellipse cx="1822.8" cy="1391.3" rx="4.1" ry="3.7" fill="#F43C08" opacity="0.71" transform="rotate(119 1822.8 1391.3)"/>
<ellipse cx="2036.5" cy="1679.8" rx="7.5" ry="5.8" fill="#FF8806" opacity="0.5" transform="rotate(88 2035.0 1677.8)"/>
<ellipse cx="2035.0" cy="1677.8" rx="4.5" ry="2.8" fill="#F43C08" opacity="0.65" transform="rotate(88 2035.0 1677.8)"/>
<ellipse cx="1778.5" cy="1686.0" rx="7.3" ry="6.7" fill="#FF8806" opacity="0.5" transform="rotate(61 1777.0 1684.0)"/>
<ellipse cx="1777.0" cy="1684.0" rx="4.3" ry="3.7" fill="#F43C08" opacity="0.70" transform="rotate(61 1777.0 1684.0)"/>
<ellipse cx="2040.6" cy="1386.9" rx="7.3" ry="7.2" fill="#FF8806" opacity="0.5" transform="rotate(1 2039.1 1384.9)"/>
<ellipse cx="2039.1" cy="1384.9" rx="4.3" ry="4.2" fill="#F43C08" opacity="0.68" transform="rotate(1 2039.1 1384.9)"/>
<ellipse cx="1970.8" cy="1660.8" rx="6.3" ry="5.3" fill="#FF8806" opacity="0.5" transform="rotate(78 1969.3 1658.8)"/>
<ellipse cx="1969.3" cy="1658.8" rx="3.3" ry="2.3" fill="#F43C08" opacity="0.88" transform="rotate(78 1969.3 1658.8)"/>
<ellipse cx="2057.1" cy="1364.9" rx="8.1" ry="7.1" fill="#FF8806" opacity="0.5" transform="rotate(126 2055.6 1362.9)"/>
<ellipse cx="2055.6" cy="1362.9" rx="5.1" ry="4.1" fill="#F43C08" opacity="0.74" transform="rotate(126 2055.6 1362.9)"/>
<ellipse cx="1783.2" cy="1414.0" rx="7.0" ry="6.4" fill="#FF8806" opacity="0.5" transform="rotate(152 1781.7 1412.0)"/>
<ellipse cx="1781.7" cy="1412.0" rx="4.0" ry="3.4" fill="#F43C08" opacity="0.74" transform="rotate(152 1781.7 1412.0)"/>
<ellipse cx="2103.6" cy="1302.1" rx="7.4" ry="7.1" fill="#FF8806" opacity="0.5" transform="rotate(150 2102.1 1300.1)"/>
<ellipse cx="2102.1" cy="1300.1" rx="4.4" ry="4.1" fill="#F43C08" opacity="0.76" transform="rotate(150 2102.1 1300.1)"/>
<ellipse cx="1873.5" cy="1414.6" rx="4.4" ry="4.0" fill="#F43C08" opacity="0.80" transform="rotate(71 1873.5 1414.6)"/>
<ellipse cx="2273.9" cy="1513.8" rx="5.9" ry="5.8" fill="#F43C08" opacity="0.71" transform="rotate(100 2273.9 1513.8)"/>
<ellipse cx="1853.0" cy="1736.7" rx="7.1" ry="6.7" fill="#FF8806" opacity="0.5" transform="rotate(58 1851.5 1734.7)"/>
<ellipse cx="1851.5" cy="1734.7" rx="4.1" ry="3.7" fill="#F43C08" opacity="0.71" transform="rotate(58 1851.5 1734.7)"/>
<ellipse cx="1864.5" cy="1649.1" rx="8.7" ry="7.1" fill="#FF8806" opacity="0.5" transform="rotate(24 1863.0 1647.1)"/>
<ellipse cx="1863.0" cy="1647.1" rx="5.7" ry="4.1" fill="#F43C08" opacity="0.76" transform="rotate(24 1863.0 1647.1)"/>
<ellipse cx="1765.6" cy="1407.8" rx="5.3" ry="3.7" fill="#F43C08" opacity="0.69" transform="rotate(8 1765.6 1407.8)"/>
<ellipse cx="1946.0" cy="1396.6" rx="6.0" ry="5.9" fill="#FF8806" opacity="0.5" transform="rotate(108 1944.5 1394.6)"/>
<ellipse cx="1944.5" cy="1394.6" rx="3.0" ry="2.9" fill="#F43C08" opacity="0.86" transform="rotate(108 1944.5 1394.6)"/>
<ellipse cx="1784.9" cy="1584.6" rx="9.0" ry="8.7" fill="#FF8806" opacity="0.5" transform="rotate(58 1783.4 1582.6)"/>
<ellipse cx="1783.4" cy="1582.6" rx="6.0" ry="5.7" fill="#F43C08" opacity="0.79" transform="rotate(58 1783.4 1582.6)"/>
<ellipse cx="2295.1" cy="1525.1" rx="3.1" ry="2.9" fill="#F43C08" opacity="0.72" transform="rotate(110 2295.1 1525.1)"/>
</g>
</g></g>
<text x="2079.0" y="1728.2" font-size="56.5" textLength="183.7" lengthAdjust="spacingAndGlyphs" style="fill:#1c0900">100 µm</text>
<rect x="2195.3" y="1758.9" width="70.5" height="9.5" fill="#0c0100"/>
<text transform="translate(110.0 2861.8) rotate(-90)" font-size="60" textLength="921.0" lengthAdjust="spacingAndGlyphs" class="b">Normalized collagen concentration</text>
<text transform="translate(186.8 2748.1) rotate(-90)" font-size="60" textLength="684.4" lengthAdjust="spacingAndGlyphs" class="b">(µg collagen/cell number)</text>
<text x="529.3" y="2039.9" font-size="76" textLength="86.9" lengthAdjust="spacingAndGlyphs">(b)</text>
<rect x="525.5" y="2120.7" width="9" height="610" fill="#000"/>
<rect x="507" y="2722.5" width="1230" height="8.2" fill="#000"/>
<rect x="507" y="2120.7" width="20" height="7.6" fill="#000"/>
<text x="318.4" y="2146.1" font-size="57.5" textLength="184.0" lengthAdjust="spacingAndGlyphs" class="b">0.00006</text>
<rect x="507" y="2321.3999999999996" width="20" height="7.6" fill="#000"/>
<text x="318.4" y="2346.8" font-size="57.5" textLength="183.0" lengthAdjust="spacingAndGlyphs" class="b">0.00004</text>
<rect x="507" y="2522.0" width="20" height="7.6" fill="#000"/>
<text x="318.4" y="2547.4" font-size="57.5" textLength="184.0" lengthAdjust="spacingAndGlyphs" class="b">0.00002</text>
<rect x="507" y="2722.7999999999997" width="20" height="7.6" fill="#000"/>
<text x="318.4" y="2748.2" font-size="57.5" textLength="184.0" lengthAdjust="spacingAndGlyphs" class="b">0.00000</text>
<rect x="716.0" y="2726" width="9" height="23.2" fill="#000"/>
<text x="649.0" y="2814.4" font-size="57.5" textLength="147.0" lengthAdjust="spacingAndGlyphs" class="b">Day 7</text>
<rect x="1126.5" y="2726" width="9" height="23.2" fill="#000"/>
<text x="1043.1" y="2814.4" font-size="57.5" textLength="175.9" lengthAdjust="spacingAndGlyphs" class="b">Day 14</text>
<rect x="1536.5" y="2726" width="9" height="23.2" fill="#000"/>
<text x="1454.9" y="2814.4" font-size="57.5" textLength="175.5" lengthAdjust="spacingAndGlyphs" class="b">Day 21</text>
<text x="924.4" y="2916.0" font-size="60" textLength="413.9" lengthAdjust="spacingAndGlyphs" class="b">Time in culture</text>
<rect x="587.6" y="2589.0" width="2.8" height="11.0" fill="#111"/>
<rect x="574.5" y="2587.6" width="29" height="2.8" fill="#111"/>
<rect x="560.4" y="2598.0" width="57.1" height="128.0" fill="#000"/>
<rect x="567.2" y="2605.4" width="43.5" height="117.6" fill="#92DFAA"/>
<rect x="675.6" y="2495.3" width="2.8" height="20.5" fill="#111"/>
<rect x="662.5" y="2493.9" width="29" height="2.8" fill="#111"/>
<rect x="648.1" y="2513.8" width="57.7" height="212.2" fill="#000"/>
<rect x="654.9" y="2521.2" width="44.1" height="201.8" fill="#8A90D2"/>
<rect x="762.5" y="2555.0" width="2.8" height="18.0" fill="#111"/>
<rect x="749.4" y="2553.6" width="29" height="2.8" fill="#111"/>
<rect x="735.0" y="2571.0" width="57.7" height="155.0" fill="#000"/>
<rect x="741.8" y="2578.4" width="44.1" height="144.6" fill="#C080C6"/>
<rect x="850.8" y="2567.5" width="2.8" height="14.9" fill="#111"/>
<rect x="837.6" y="2566.1" width="29" height="2.8" fill="#111"/>
<rect x="823.3" y="2580.4" width="57.7" height="145.6" fill="#000"/>
<rect x="830.1" y="2587.8" width="44.1" height="135.2" fill="#EFFDB6"/>
<rect x="996.9" y="2555.6" width="2.8" height="5.9" fill="#111"/>
<rect x="983.8" y="2554.2" width="29" height="2.8" fill="#111"/>
<rect x="969.5" y="2559.5" width="57.5" height="166.5" fill="#000"/>
<rect x="976.3" y="2566.9" width="43.9" height="156.1" fill="#92DFAA"/>
<rect x="1085.1" y="2412.0" width="2.8" height="14.4" fill="#111"/>
<rect x="1072.0" y="2410.6" width="29" height="2.8" fill="#111"/>
<rect x="1057.8" y="2424.4" width="57.4" height="301.6" fill="#000"/>
<rect x="1064.6" y="2431.8" width="43.8" height="291.2" fill="#8A90D2"/>
<rect x="1173.2" y="2456.0" width="2.8" height="9.9" fill="#111"/>
<rect x="1160.1" y="2454.6" width="29" height="2.8" fill="#111"/>
<rect x="1146.0" y="2463.9" width="57.2" height="262.1" fill="#000"/>
<rect x="1152.8" y="2471.3" width="43.6" height="251.7" fill="#C080C6"/>
<rect x="1261.5" y="2512.4" width="2.8" height="7.2" fill="#111"/>
<rect x="1248.4" y="2511.0" width="29" height="2.8" fill="#111"/>
<rect x="1234.3" y="2517.6" width="57.2" height="208.4" fill="#000"/>
<rect x="1241.1" y="2525.0" width="43.6" height="198.0" fill="#EFFDB6"/>
<rect x="1407.9" y="2369.6" width="2.8" height="35.7" fill="#111"/>
<rect x="1394.8" y="2368.2" width="29" height="2.8" fill="#111"/>
<rect x="1380.3" y="2403.3" width="58.0" height="322.7" fill="#000"/>
<rect x="1387.1" y="2410.7" width="44.4" height="312.3" fill="#92DFAA"/>
<rect x="1496.0" y="2252.3" width="2.8" height="48.1" fill="#111"/>
<rect x="1482.9" y="2250.9" width="29" height="2.8" fill="#111"/>
<rect x="1468.3" y="2298.4" width="58.2" height="427.6" fill="#000"/>
<rect x="1475.1" y="2305.8" width="44.6" height="417.2" fill="#8A90D2"/>
<rect x="1584.3" y="2234.4" width="2.8" height="81.8" fill="#111"/>
<rect x="1571.2" y="2233.0" width="29" height="2.8" fill="#111"/>
<rect x="1556.6" y="2314.2" width="58.2" height="411.8" fill="#000"/>
<rect x="1563.4" y="2321.6" width="44.6" height="401.4" fill="#C080C6"/>
<rect x="1671.9" y="2359.3" width="2.8" height="16.2" fill="#111"/>
<rect x="1658.8" y="2357.9" width="29" height="2.8" fill="#111"/>
<rect x="1644.3" y="2373.5" width="58.0" height="352.5" fill="#000"/>
<rect x="1651.1" y="2380.9" width="44.4" height="342.1" fill="#EFFDB6"/>
<text class="st" x="676.7" y="2497.3" font-size="36.5" text-anchor="middle" textLength="66.8" lengthAdjust="spacing" stroke="#1a1a1a" stroke-width="0.75">****</text>
<text class="st" x="764.2" y="2561.0" font-size="36.5" text-anchor="middle" textLength="50.1" lengthAdjust="spacing" stroke="#1a1a1a" stroke-width="0.75">***</text>
<text class="st" x="853.2" y="2568.4" font-size="36.5" text-anchor="middle" textLength="50.1" lengthAdjust="spacing" stroke="#1a1a1a" stroke-width="0.75">***</text>
<text class="st" x="1086.8" y="2415.0" font-size="36.5" text-anchor="middle" textLength="83.5" lengthAdjust="spacing" stroke="#1a1a1a" stroke-width="0.75">*****</text>
<text class="st" x="1175.1" y="2461.1" font-size="36.5" text-anchor="middle" textLength="83.5" lengthAdjust="spacing" stroke="#1a1a1a" stroke-width="0.75">*****</text>
<text class="st" x="1263.0" y="2517.2" font-size="36.5" text-anchor="middle" textLength="83.5" lengthAdjust="spacing" stroke="#1a1a1a" stroke-width="0.75">*****</text>
<text class="st" x="1499.2" y="2254.3" font-size="36.5" text-anchor="middle" textLength="66.8" lengthAdjust="spacing" stroke="#1a1a1a" stroke-width="0.75">****</text>
<text class="st" x="1585.0" y="2241.6" font-size="36.5" text-anchor="middle" textLength="33.4" lengthAdjust="spacing" stroke="#1a1a1a" stroke-width="0.75">**</text>
<text class="st" x="1673.5" y="2358.9" font-size="36.5" text-anchor="middle" textLength="33.4" lengthAdjust="spacing" stroke="#1a1a1a" stroke-width="0.75">**</text>
<text class="st" x="1589.7" y="2162.1" font-size="36.5" text-anchor="middle" textLength="66.8" lengthAdjust="spacing" stroke="#1a1a1a" stroke-width="0.75">****</text>
<text class="st" x="1629.8" y="2090.6" font-size="36.5" text-anchor="middle" textLength="16.7" lengthAdjust="spacing" stroke="#1a1a1a" stroke-width="0.75">*</text>
<text class="st" x="1156.6" y="2317.4" font-size="36.5" text-anchor="middle" textLength="83.5" lengthAdjust="spacing" stroke="#1a1a1a" stroke-width="0.75">*****</text>
<rect x="1085.4" y="2319.8" width="137.0" height="8.5" fill="#000"/>
<rect x="1085.4" y="2319.8" width="7.5" height="58.4" fill="#000"/>
<rect x="1215.0" y="2319.8" width="7.4" height="65.8" fill="#000"/>
<rect x="1171.9" y="2377.7" width="94.5" height="7.9" fill="#000"/>
<rect x="1171.9" y="2377.7" width="6.7" height="29.0" fill="#000"/>
<rect x="1259.3" y="2377.7" width="7.1" height="105.4" fill="#000"/>
<rect x="1494.1" y="2165.4" width="183.7" height="8.4" fill="#000"/>
<rect x="1494.1" y="2165.4" width="7.4" height="41.3" fill="#000"/>
<rect x="1670.1" y="2165.4" width="7.7" height="140.1" fill="#000"/>
<rect x="1581.6" y="2090.3" width="93.5" height="8.4" fill="#000"/>
<rect x="1581.6" y="2090.3" width="7.4" height="17.9" fill="#000"/>
<rect x="1668.0" y="2090.3" width="7.1" height="30.3" fill="#000"/>
<rect x="1804.4" y="2304.5" width="55.0" height="56.4" fill="#000"/>
<rect x="1811.4" y="2312.1" width="41.0" height="41.2" fill="#92DFAA"/>
<text x="1888.4" y="2355.0" font-size="59" textLength="190.3" lengthAdjust="spacingAndGlyphs">Control</text>
<rect x="1804.4" y="2389.7" width="55.0" height="55.0" fill="#000"/>
<rect x="1811.4" y="2397.3" width="41.0" height="39.8" fill="#8A90D2"/>
<text x="1889.4" y="2438.6" font-size="59" textLength="211.5" lengthAdjust="spacingAndGlyphs">nanoHA</text>
<rect x="1804.4" y="2471.0" width="55.0" height="55.0" fill="#000"/>
<rect x="1811.4" y="2478.6" width="41.0" height="39.8" fill="#C080C6"/>
<text x="1886.3" y="2520.2" font-size="59" textLength="378.0" lengthAdjust="spacingAndGlyphs">Sr-nanoHA_50</text>
<rect x="1804.4" y="2557.4" width="55.0" height="55.7" fill="#000"/>
<rect x="1811.4" y="2565.0" width="41.0" height="40.5" fill="#EFFDB6"/>
<text x="1886.3" y="2606.0" font-size="59" textLength="406.6" lengthAdjust="spacingAndGlyphs">Sr-nanoHA_100</text>
</svg>
</body></html>
